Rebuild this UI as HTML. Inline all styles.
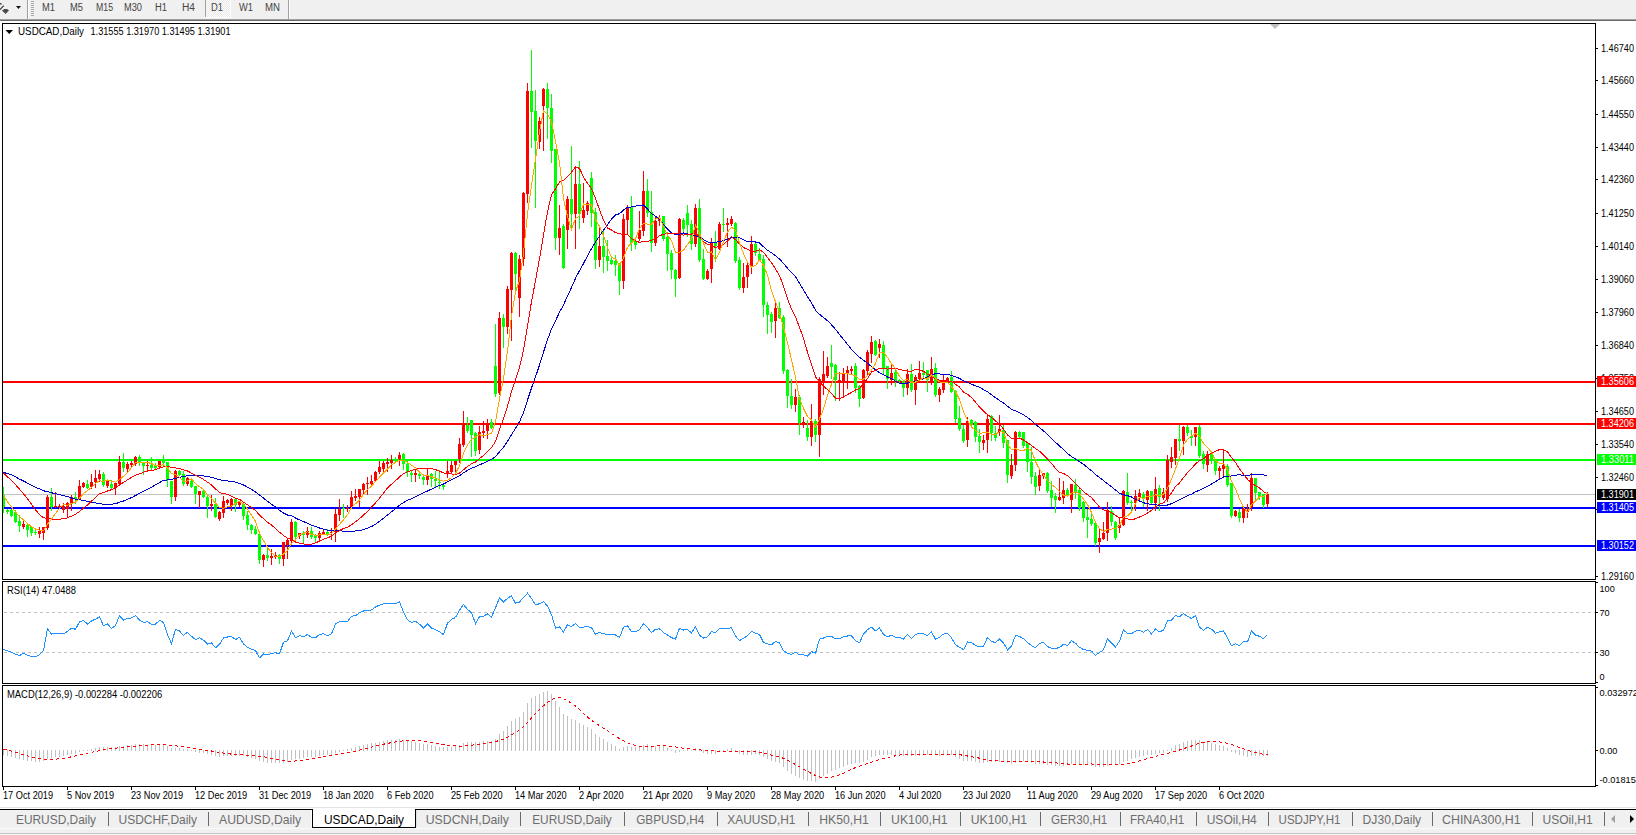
<!DOCTYPE html><html><head><meta charset="utf-8"><style>html,body{margin:0;padding:0;background:#fff;}svg{display:block} text{font-family:"Liberation Sans", sans-serif;}</style></head><body>
<svg width="1636" height="835" viewBox="0 0 1636 835">
<rect x="0" y="0" width="1636" height="19" fill="#f0f0f0"/>
<rect x="0" y="19" width="1636" height="1" fill="#a0a0a0"/>
<rect x="0" y="20" width="1636" height="1" fill="#696969"/>
<rect x="0" y="21" width="1636" height="2" fill="#ffffff"/>
<path d="M0 3 L1.2 3 L2 4.6 L0 4.6 Z" fill="#444"/>
<path d="M3.7 5.6 L0 9.6" stroke="#3a3a3a" stroke-width="1.3" fill="none"/>
<path d="M2 10.4 L4.4 9 L7 9 L9 10.4 L5.5 14 Z" fill="#4a4a4a"/>
<path d="M16 6 L21 6 L18.5 9 Z" fill="#111"/>
<rect x="27" y="0" width="1" height="19" fill="#a0a0a0"/>
<rect x="28" y="0" width="1" height="19" fill="#ffffff"/>
<rect x="31" y="1" width="3" height="1" fill="#a8a8a8"/>
<rect x="31" y="3" width="3" height="1" fill="#a8a8a8"/>
<rect x="31" y="5" width="3" height="1" fill="#a8a8a8"/>
<rect x="31" y="7" width="3" height="1" fill="#a8a8a8"/>
<rect x="31" y="9" width="3" height="1" fill="#a8a8a8"/>
<rect x="31" y="11" width="3" height="1" fill="#a8a8a8"/>
<rect x="31" y="13" width="3" height="1" fill="#a8a8a8"/>
<rect x="31" y="15" width="3" height="1" fill="#a8a8a8"/>
<defs><pattern id="chk" width="2" height="2" patternUnits="userSpaceOnUse"><rect width="2" height="2" fill="#e6e6e6"/><rect width="1" height="1" fill="#ffffff"/><rect x="1" y="1" width="1" height="1" fill="#ffffff"/></pattern></defs>
<rect x="205" y="0" width="25" height="17" fill="url(#chk)"/>
<rect x="205" y="0" width="1" height="17" fill="#a0a0a0"/>
<rect x="205" y="17" width="26" height="1" fill="#ffffff"/>
<rect x="230" y="0" width="1" height="18" fill="#ffffff"/>
<rect x="288" y="0" width="1" height="19" fill="#a0a0a0"/>
<rect x="289" y="0" width="1" height="19" fill="#ffffff"/>
<text x="42" y="11" font-size="10" fill="#454545" textLength="13" lengthAdjust="spacingAndGlyphs">M1</text>
<text x="70" y="11" font-size="10" fill="#454545" textLength="13" lengthAdjust="spacingAndGlyphs">M5</text>
<text x="96" y="11" font-size="10" fill="#454545" textLength="17" lengthAdjust="spacingAndGlyphs">M15</text>
<text x="124" y="11" font-size="10" fill="#454545" textLength="18" lengthAdjust="spacingAndGlyphs">M30</text>
<text x="155" y="11" font-size="10" fill="#454545" textLength="12" lengthAdjust="spacingAndGlyphs">H1</text>
<text x="182" y="11" font-size="10" fill="#454545" textLength="13" lengthAdjust="spacingAndGlyphs">H4</text>
<text x="211" y="11" font-size="10" fill="#454545" textLength="12" lengthAdjust="spacingAndGlyphs">D1</text>
<text x="239" y="11" font-size="10" fill="#454545" textLength="14" lengthAdjust="spacingAndGlyphs">W1</text>
<text x="265" y="11" font-size="10" fill="#454545" textLength="15" lengthAdjust="spacingAndGlyphs">MN</text>
<rect x="2" y="23" width="1594" height="557" fill="#000"/>
<rect x="3" y="24" width="1592" height="555" fill="#fff"/>
<rect x="2" y="581" width="1594" height="103" fill="#000"/>
<rect x="3" y="582" width="1592" height="101" fill="#fff"/>
<rect x="2" y="685" width="1594" height="102" fill="#000"/>
<rect x="3" y="686" width="1592" height="100" fill="#fff"/>
<g shape-rendering="crispEdges">
<rect x="3" y="381" width="1592" height="2" fill="#ff0000"/>
<rect x="3" y="423" width="1592" height="2" fill="#ff0000"/>
<rect x="3" y="459" width="1592" height="2" fill="#00ff00"/>
<rect x="3" y="494" width="1592" height="1" fill="#c0c0c0"/>
<rect x="3" y="507" width="1592" height="2" fill="#0000ff"/>
<rect x="3" y="545" width="1592" height="2" fill="#0000ff"/>
<rect x="3" y="487" width="1" height="26" fill="#00ff00"/>
<rect x="3" y="495" width="2" height="12" fill="#00ff00"/>
<rect x="7" y="509" width="1" height="5" fill="#00ff00"/>
<rect x="6" y="510" width="3" height="2" fill="#00ff00"/>
<rect x="11" y="509" width="1" height="8" fill="#00ff00"/>
<rect x="10" y="510" width="3" height="6" fill="#00ff00"/>
<rect x="15" y="510" width="1" height="13" fill="#00ff00"/>
<rect x="14" y="512" width="3" height="10" fill="#00ff00"/>
<rect x="19" y="515" width="1" height="17" fill="#00ff00"/>
<rect x="18" y="521" width="3" height="5" fill="#00ff00"/>
<rect x="23" y="519" width="1" height="10" fill="#ff0000"/>
<rect x="22" y="524" width="3" height="3" fill="#ff0000"/>
<rect x="27" y="523" width="1" height="14" fill="#00ff00"/>
<rect x="26" y="525" width="3" height="5" fill="#00ff00"/>
<rect x="31" y="527" width="1" height="9" fill="#00ff00"/>
<rect x="30" y="527" width="3" height="6" fill="#00ff00"/>
<rect x="35" y="528" width="1" height="7" fill="#00ff00"/>
<rect x="34" y="532" width="3" height="1" fill="#00ff00"/>
<rect x="39" y="527" width="1" height="11" fill="#ff0000"/>
<rect x="38" y="531" width="3" height="3" fill="#ff0000"/>
<rect x="43" y="527" width="1" height="13" fill="#ff0000"/>
<rect x="42" y="527" width="3" height="6" fill="#ff0000"/>
<rect x="47" y="495" width="1" height="35" fill="#ff0000"/>
<rect x="46" y="497" width="3" height="31" fill="#ff0000"/>
<rect x="51" y="488" width="1" height="23" fill="#00ff00"/>
<rect x="50" y="497" width="3" height="10" fill="#00ff00"/>
<rect x="55" y="492" width="1" height="16" fill="#ff0000"/>
<rect x="54" y="506" width="3" height="1" fill="#ff0000"/>
<rect x="59" y="504" width="1" height="4" fill="#ff0000"/>
<rect x="58" y="506" width="3" height="1" fill="#ff0000"/>
<rect x="63" y="503" width="1" height="10" fill="#ff0000"/>
<rect x="62" y="506" width="3" height="4" fill="#ff0000"/>
<rect x="67" y="502" width="1" height="15" fill="#ff0000"/>
<rect x="66" y="503" width="3" height="6" fill="#ff0000"/>
<rect x="71" y="495" width="1" height="16" fill="#ff0000"/>
<rect x="70" y="497" width="3" height="7" fill="#ff0000"/>
<rect x="75" y="492" width="1" height="12" fill="#00ff00"/>
<rect x="74" y="497" width="3" height="2" fill="#00ff00"/>
<rect x="79" y="480" width="1" height="20" fill="#ff0000"/>
<rect x="78" y="486" width="3" height="13" fill="#ff0000"/>
<rect x="83" y="482" width="1" height="6" fill="#ff0000"/>
<rect x="82" y="483" width="3" height="4" fill="#ff0000"/>
<rect x="87" y="480" width="1" height="9" fill="#00ff00"/>
<rect x="86" y="484" width="3" height="4" fill="#00ff00"/>
<rect x="91" y="474" width="1" height="15" fill="#ff0000"/>
<rect x="90" y="482" width="3" height="5" fill="#ff0000"/>
<rect x="95" y="470" width="1" height="18" fill="#ff0000"/>
<rect x="94" y="478" width="3" height="4" fill="#ff0000"/>
<rect x="99" y="470" width="1" height="12" fill="#ff0000"/>
<rect x="98" y="474" width="3" height="5" fill="#ff0000"/>
<rect x="103" y="472" width="1" height="15" fill="#00ff00"/>
<rect x="102" y="474" width="3" height="11" fill="#00ff00"/>
<rect x="107" y="481" width="1" height="7" fill="#ff0000"/>
<rect x="106" y="481" width="3" height="5" fill="#ff0000"/>
<rect x="111" y="480" width="1" height="10" fill="#00ff00"/>
<rect x="110" y="484" width="3" height="4" fill="#00ff00"/>
<rect x="115" y="482" width="1" height="13" fill="#ff0000"/>
<rect x="114" y="483" width="3" height="5" fill="#ff0000"/>
<rect x="119" y="456" width="1" height="30" fill="#ff0000"/>
<rect x="118" y="462" width="3" height="22" fill="#ff0000"/>
<rect x="123" y="453" width="1" height="19" fill="#00ff00"/>
<rect x="122" y="462" width="3" height="6" fill="#00ff00"/>
<rect x="127" y="462" width="1" height="11" fill="#ff0000"/>
<rect x="126" y="464" width="3" height="5" fill="#ff0000"/>
<rect x="131" y="461" width="1" height="6" fill="#ff0000"/>
<rect x="130" y="463" width="3" height="2" fill="#ff0000"/>
<rect x="135" y="456" width="1" height="10" fill="#ff0000"/>
<rect x="134" y="457" width="3" height="7" fill="#ff0000"/>
<rect x="139" y="455" width="1" height="11" fill="#00ff00"/>
<rect x="138" y="457" width="3" height="6" fill="#00ff00"/>
<rect x="143" y="463" width="1" height="12" fill="#00ff00"/>
<rect x="142" y="463" width="3" height="3" fill="#00ff00"/>
<rect x="147" y="461" width="1" height="9" fill="#ff0000"/>
<rect x="146" y="465" width="3" height="1" fill="#ff0000"/>
<rect x="151" y="457" width="1" height="13" fill="#00ff00"/>
<rect x="150" y="465" width="3" height="3" fill="#00ff00"/>
<rect x="155" y="463" width="1" height="6" fill="#00ff00"/>
<rect x="154" y="466" width="3" height="2" fill="#00ff00"/>
<rect x="159" y="461" width="1" height="8" fill="#ff0000"/>
<rect x="158" y="461" width="3" height="6" fill="#ff0000"/>
<rect x="163" y="455" width="1" height="11" fill="#00ff00"/>
<rect x="162" y="461" width="3" height="2" fill="#00ff00"/>
<rect x="167" y="462" width="1" height="25" fill="#00ff00"/>
<rect x="166" y="462" width="3" height="18" fill="#00ff00"/>
<rect x="171" y="481" width="1" height="23" fill="#00ff00"/>
<rect x="170" y="481" width="3" height="16" fill="#00ff00"/>
<rect x="175" y="470" width="1" height="31" fill="#ff0000"/>
<rect x="174" y="471" width="3" height="26" fill="#ff0000"/>
<rect x="179" y="470" width="1" height="6" fill="#00ff00"/>
<rect x="178" y="471" width="3" height="4" fill="#00ff00"/>
<rect x="183" y="471" width="1" height="15" fill="#00ff00"/>
<rect x="182" y="474" width="3" height="10" fill="#00ff00"/>
<rect x="187" y="477" width="1" height="9" fill="#ff0000"/>
<rect x="186" y="478" width="3" height="6" fill="#ff0000"/>
<rect x="191" y="479" width="1" height="9" fill="#00ff00"/>
<rect x="190" y="481" width="3" height="6" fill="#00ff00"/>
<rect x="195" y="486" width="1" height="18" fill="#00ff00"/>
<rect x="194" y="486" width="3" height="8" fill="#00ff00"/>
<rect x="199" y="491" width="1" height="17" fill="#ff0000"/>
<rect x="198" y="491" width="3" height="4" fill="#ff0000"/>
<rect x="203" y="490" width="1" height="8" fill="#00ff00"/>
<rect x="202" y="491" width="3" height="6" fill="#00ff00"/>
<rect x="207" y="495" width="1" height="23" fill="#00ff00"/>
<rect x="206" y="497" width="3" height="9" fill="#00ff00"/>
<rect x="211" y="495" width="1" height="16" fill="#ff0000"/>
<rect x="210" y="504" width="3" height="2" fill="#ff0000"/>
<rect x="215" y="498" width="1" height="20" fill="#00ff00"/>
<rect x="214" y="504" width="3" height="13" fill="#00ff00"/>
<rect x="219" y="511" width="1" height="10" fill="#ff0000"/>
<rect x="218" y="512" width="3" height="7" fill="#ff0000"/>
<rect x="223" y="496" width="1" height="22" fill="#ff0000"/>
<rect x="222" y="501" width="3" height="12" fill="#ff0000"/>
<rect x="227" y="499" width="1" height="6" fill="#ff0000"/>
<rect x="226" y="500" width="3" height="3" fill="#ff0000"/>
<rect x="231" y="498" width="1" height="13" fill="#ff0000"/>
<rect x="230" y="499" width="3" height="7" fill="#ff0000"/>
<rect x="235" y="498" width="1" height="14" fill="#00ff00"/>
<rect x="234" y="499" width="3" height="6" fill="#00ff00"/>
<rect x="239" y="501" width="1" height="6" fill="#ff0000"/>
<rect x="238" y="501" width="3" height="4" fill="#ff0000"/>
<rect x="243" y="503" width="1" height="17" fill="#00ff00"/>
<rect x="242" y="504" width="3" height="12" fill="#00ff00"/>
<rect x="247" y="511" width="1" height="19" fill="#00ff00"/>
<rect x="246" y="515" width="3" height="10" fill="#00ff00"/>
<rect x="251" y="524" width="1" height="10" fill="#00ff00"/>
<rect x="250" y="525" width="3" height="5" fill="#00ff00"/>
<rect x="255" y="526" width="1" height="9" fill="#00ff00"/>
<rect x="254" y="529" width="3" height="5" fill="#00ff00"/>
<rect x="259" y="534" width="1" height="30" fill="#00ff00"/>
<rect x="258" y="534" width="3" height="26" fill="#00ff00"/>
<rect x="263" y="554" width="1" height="13" fill="#ff0000"/>
<rect x="262" y="555" width="3" height="5" fill="#ff0000"/>
<rect x="267" y="547" width="1" height="14" fill="#00ff00"/>
<rect x="266" y="555" width="3" height="3" fill="#00ff00"/>
<rect x="271" y="549" width="1" height="16" fill="#ff0000"/>
<rect x="270" y="556" width="3" height="2" fill="#ff0000"/>
<rect x="275" y="552" width="1" height="7" fill="#ff0000"/>
<rect x="274" y="555" width="3" height="2" fill="#ff0000"/>
<rect x="279" y="554" width="1" height="10" fill="#00ff00"/>
<rect x="278" y="555" width="3" height="4" fill="#00ff00"/>
<rect x="283" y="542" width="1" height="24" fill="#ff0000"/>
<rect x="282" y="542" width="3" height="17" fill="#ff0000"/>
<rect x="287" y="538" width="1" height="21" fill="#ff0000"/>
<rect x="286" y="540" width="3" height="5" fill="#ff0000"/>
<rect x="291" y="519" width="1" height="25" fill="#ff0000"/>
<rect x="290" y="522" width="3" height="19" fill="#ff0000"/>
<rect x="295" y="521" width="1" height="21" fill="#00ff00"/>
<rect x="294" y="522" width="3" height="15" fill="#00ff00"/>
<rect x="299" y="533" width="1" height="6" fill="#ff0000"/>
<rect x="298" y="533" width="3" height="3" fill="#ff0000"/>
<rect x="303" y="531" width="1" height="12" fill="#00ff00"/>
<rect x="302" y="533" width="3" height="2" fill="#00ff00"/>
<rect x="307" y="527" width="1" height="11" fill="#ff0000"/>
<rect x="306" y="531" width="3" height="4" fill="#ff0000"/>
<rect x="311" y="527" width="1" height="12" fill="#00ff00"/>
<rect x="310" y="531" width="3" height="6" fill="#00ff00"/>
<rect x="315" y="534" width="1" height="9" fill="#00ff00"/>
<rect x="314" y="536" width="3" height="2" fill="#00ff00"/>
<rect x="319" y="531" width="1" height="10" fill="#ff0000"/>
<rect x="318" y="533" width="3" height="5" fill="#ff0000"/>
<rect x="323" y="529" width="1" height="6" fill="#ff0000"/>
<rect x="322" y="532" width="3" height="2" fill="#ff0000"/>
<rect x="327" y="529" width="1" height="7" fill="#00ff00"/>
<rect x="326" y="532" width="3" height="3" fill="#00ff00"/>
<rect x="331" y="528" width="1" height="12" fill="#ff0000"/>
<rect x="330" y="532" width="3" height="1" fill="#ff0000"/>
<rect x="335" y="509" width="1" height="33" fill="#ff0000"/>
<rect x="334" y="514" width="3" height="18" fill="#ff0000"/>
<rect x="339" y="499" width="1" height="22" fill="#ff0000"/>
<rect x="338" y="509" width="3" height="6" fill="#ff0000"/>
<rect x="343" y="504" width="1" height="14" fill="#00ff00"/>
<rect x="342" y="508" width="3" height="1" fill="#00ff00"/>
<rect x="347" y="505" width="1" height="7" fill="#ff0000"/>
<rect x="346" y="508" width="3" height="1" fill="#ff0000"/>
<rect x="351" y="491" width="1" height="18" fill="#ff0000"/>
<rect x="350" y="497" width="3" height="10" fill="#ff0000"/>
<rect x="355" y="489" width="1" height="12" fill="#ff0000"/>
<rect x="354" y="496" width="3" height="2" fill="#ff0000"/>
<rect x="359" y="489" width="1" height="18" fill="#ff0000"/>
<rect x="358" y="489" width="3" height="8" fill="#ff0000"/>
<rect x="363" y="483" width="1" height="12" fill="#ff0000"/>
<rect x="362" y="484" width="3" height="6" fill="#ff0000"/>
<rect x="367" y="477" width="1" height="18" fill="#ff0000"/>
<rect x="366" y="483" width="3" height="1" fill="#ff0000"/>
<rect x="371" y="475" width="1" height="12" fill="#ff0000"/>
<rect x="370" y="481" width="3" height="3" fill="#ff0000"/>
<rect x="375" y="471" width="1" height="11" fill="#ff0000"/>
<rect x="374" y="472" width="3" height="9" fill="#ff0000"/>
<rect x="379" y="461" width="1" height="13" fill="#ff0000"/>
<rect x="378" y="467" width="3" height="5" fill="#ff0000"/>
<rect x="383" y="461" width="1" height="13" fill="#ff0000"/>
<rect x="382" y="463" width="3" height="6" fill="#ff0000"/>
<rect x="387" y="458" width="1" height="14" fill="#ff0000"/>
<rect x="386" y="462" width="3" height="2" fill="#ff0000"/>
<rect x="391" y="455" width="1" height="14" fill="#ff0000"/>
<rect x="390" y="460" width="3" height="3" fill="#ff0000"/>
<rect x="395" y="457" width="1" height="6" fill="#00ff00"/>
<rect x="394" y="460" width="3" height="1" fill="#00ff00"/>
<rect x="399" y="452" width="1" height="14" fill="#ff0000"/>
<rect x="398" y="455" width="3" height="4" fill="#ff0000"/>
<rect x="403" y="453" width="1" height="17" fill="#00ff00"/>
<rect x="402" y="454" width="3" height="10" fill="#00ff00"/>
<rect x="407" y="461" width="1" height="16" fill="#00ff00"/>
<rect x="406" y="464" width="3" height="8" fill="#00ff00"/>
<rect x="411" y="471" width="1" height="11" fill="#00ff00"/>
<rect x="410" y="473" width="3" height="2" fill="#00ff00"/>
<rect x="415" y="469" width="1" height="13" fill="#ff0000"/>
<rect x="414" y="473" width="3" height="2" fill="#ff0000"/>
<rect x="419" y="472" width="1" height="7" fill="#00ff00"/>
<rect x="418" y="474" width="3" height="2" fill="#00ff00"/>
<rect x="423" y="475" width="1" height="10" fill="#00ff00"/>
<rect x="422" y="477" width="3" height="3" fill="#00ff00"/>
<rect x="427" y="468" width="1" height="17" fill="#ff0000"/>
<rect x="426" y="475" width="3" height="5" fill="#ff0000"/>
<rect x="431" y="473" width="1" height="14" fill="#00ff00"/>
<rect x="430" y="474" width="3" height="5" fill="#00ff00"/>
<rect x="435" y="471" width="1" height="16" fill="#00ff00"/>
<rect x="434" y="479" width="3" height="2" fill="#00ff00"/>
<rect x="439" y="470" width="1" height="19" fill="#00ff00"/>
<rect x="438" y="482" width="3" height="1" fill="#00ff00"/>
<rect x="443" y="484" width="1" height="6" fill="#00ff00"/>
<rect x="442" y="485" width="3" height="2" fill="#00ff00"/>
<rect x="447" y="461" width="1" height="17" fill="#ff0000"/>
<rect x="446" y="471" width="3" height="3" fill="#ff0000"/>
<rect x="451" y="461" width="1" height="13" fill="#ff0000"/>
<rect x="450" y="465" width="3" height="7" fill="#ff0000"/>
<rect x="455" y="461" width="1" height="13" fill="#ff0000"/>
<rect x="454" y="461" width="3" height="4" fill="#ff0000"/>
<rect x="459" y="438" width="1" height="25" fill="#ff0000"/>
<rect x="458" y="444" width="3" height="15" fill="#ff0000"/>
<rect x="463" y="411" width="1" height="36" fill="#ff0000"/>
<rect x="462" y="425" width="3" height="20" fill="#ff0000"/>
<rect x="467" y="417" width="1" height="16" fill="#00ff00"/>
<rect x="466" y="425" width="3" height="6" fill="#00ff00"/>
<rect x="471" y="420" width="1" height="37" fill="#00ff00"/>
<rect x="470" y="420" width="3" height="15" fill="#00ff00"/>
<rect x="475" y="432" width="1" height="24" fill="#00ff00"/>
<rect x="474" y="433" width="3" height="18" fill="#00ff00"/>
<rect x="479" y="426" width="1" height="28" fill="#ff0000"/>
<rect x="478" y="432" width="3" height="18" fill="#ff0000"/>
<rect x="483" y="421" width="1" height="17" fill="#ff0000"/>
<rect x="482" y="431" width="3" height="2" fill="#ff0000"/>
<rect x="487" y="419" width="1" height="20" fill="#ff0000"/>
<rect x="486" y="424" width="3" height="7" fill="#ff0000"/>
<rect x="491" y="419" width="1" height="10" fill="#00ff00"/>
<rect x="490" y="422" width="3" height="6" fill="#00ff00"/>
<rect x="495" y="324" width="1" height="73" fill="#00ff00"/>
<rect x="494" y="366" width="3" height="28" fill="#00ff00"/>
<rect x="499" y="312" width="1" height="83" fill="#ff0000"/>
<rect x="498" y="318" width="3" height="75" fill="#ff0000"/>
<rect x="503" y="314" width="1" height="34" fill="#00ff00"/>
<rect x="502" y="318" width="3" height="9" fill="#00ff00"/>
<rect x="507" y="286" width="1" height="48" fill="#ff0000"/>
<rect x="506" y="289" width="3" height="38" fill="#ff0000"/>
<rect x="511" y="252" width="1" height="89" fill="#ff0000"/>
<rect x="510" y="253" width="3" height="37" fill="#ff0000"/>
<rect x="515" y="252" width="1" height="38" fill="#00ff00"/>
<rect x="514" y="253" width="3" height="21" fill="#00ff00"/>
<rect x="519" y="255" width="1" height="62" fill="#ff0000"/>
<rect x="518" y="259" width="3" height="39" fill="#ff0000"/>
<rect x="523" y="192" width="1" height="74" fill="#ff0000"/>
<rect x="522" y="193" width="3" height="66" fill="#ff0000"/>
<rect x="527" y="83" width="1" height="120" fill="#ff0000"/>
<rect x="526" y="91" width="3" height="103" fill="#ff0000"/>
<rect x="531" y="50" width="1" height="98" fill="#00ff00"/>
<rect x="530" y="91" width="3" height="21" fill="#00ff00"/>
<rect x="535" y="90" width="1" height="118" fill="#00ff00"/>
<rect x="534" y="111" width="3" height="30" fill="#00ff00"/>
<rect x="539" y="117" width="1" height="32" fill="#ff0000"/>
<rect x="538" y="121" width="3" height="21" fill="#ff0000"/>
<rect x="543" y="88" width="1" height="63" fill="#ff0000"/>
<rect x="542" y="89" width="3" height="17" fill="#ff0000"/>
<rect x="547" y="83" width="1" height="56" fill="#00ff00"/>
<rect x="546" y="89" width="3" height="19" fill="#00ff00"/>
<rect x="551" y="94" width="1" height="69" fill="#00ff00"/>
<rect x="550" y="108" width="3" height="43" fill="#00ff00"/>
<rect x="555" y="149" width="1" height="101" fill="#00ff00"/>
<rect x="554" y="149" width="3" height="89" fill="#00ff00"/>
<rect x="559" y="205" width="1" height="50" fill="#ff0000"/>
<rect x="558" y="228" width="3" height="10" fill="#ff0000"/>
<rect x="563" y="224" width="1" height="45" fill="#00ff00"/>
<rect x="562" y="226" width="3" height="42" fill="#00ff00"/>
<rect x="567" y="196" width="1" height="53" fill="#ff0000"/>
<rect x="566" y="199" width="3" height="31" fill="#ff0000"/>
<rect x="571" y="146" width="1" height="85" fill="#00ff00"/>
<rect x="570" y="199" width="3" height="15" fill="#00ff00"/>
<rect x="575" y="167" width="1" height="82" fill="#ff0000"/>
<rect x="574" y="184" width="3" height="30" fill="#ff0000"/>
<rect x="579" y="161" width="1" height="68" fill="#00ff00"/>
<rect x="578" y="184" width="3" height="30" fill="#00ff00"/>
<rect x="583" y="183" width="1" height="40" fill="#ff0000"/>
<rect x="582" y="210" width="3" height="8" fill="#ff0000"/>
<rect x="587" y="201" width="1" height="14" fill="#ff0000"/>
<rect x="586" y="203" width="3" height="8" fill="#ff0000"/>
<rect x="591" y="172" width="1" height="55" fill="#00ff00"/>
<rect x="590" y="178" width="3" height="35" fill="#00ff00"/>
<rect x="595" y="208" width="1" height="61" fill="#00ff00"/>
<rect x="594" y="212" width="3" height="48" fill="#00ff00"/>
<rect x="599" y="228" width="1" height="39" fill="#ff0000"/>
<rect x="598" y="246" width="3" height="14" fill="#ff0000"/>
<rect x="603" y="231" width="1" height="42" fill="#00ff00"/>
<rect x="602" y="246" width="3" height="11" fill="#00ff00"/>
<rect x="607" y="240" width="1" height="31" fill="#00ff00"/>
<rect x="606" y="256" width="3" height="5" fill="#00ff00"/>
<rect x="611" y="258" width="1" height="7" fill="#00ff00"/>
<rect x="610" y="260" width="3" height="4" fill="#00ff00"/>
<rect x="615" y="255" width="1" height="21" fill="#00ff00"/>
<rect x="614" y="261" width="3" height="4" fill="#00ff00"/>
<rect x="619" y="263" width="1" height="32" fill="#00ff00"/>
<rect x="618" y="264" width="3" height="17" fill="#00ff00"/>
<rect x="623" y="214" width="1" height="75" fill="#ff0000"/>
<rect x="622" y="219" width="3" height="62" fill="#ff0000"/>
<rect x="627" y="205" width="1" height="30" fill="#ff0000"/>
<rect x="626" y="208" width="3" height="12" fill="#ff0000"/>
<rect x="631" y="196" width="1" height="55" fill="#00ff00"/>
<rect x="630" y="207" width="3" height="36" fill="#00ff00"/>
<rect x="635" y="238" width="1" height="11" fill="#00ff00"/>
<rect x="634" y="241" width="3" height="4" fill="#00ff00"/>
<rect x="639" y="211" width="1" height="30" fill="#ff0000"/>
<rect x="638" y="230" width="3" height="9" fill="#ff0000"/>
<rect x="643" y="171" width="1" height="65" fill="#ff0000"/>
<rect x="642" y="191" width="3" height="40" fill="#ff0000"/>
<rect x="647" y="179" width="1" height="38" fill="#00ff00"/>
<rect x="646" y="191" width="3" height="22" fill="#00ff00"/>
<rect x="651" y="191" width="1" height="61" fill="#00ff00"/>
<rect x="650" y="212" width="3" height="31" fill="#00ff00"/>
<rect x="655" y="217" width="1" height="29" fill="#ff0000"/>
<rect x="654" y="221" width="3" height="22" fill="#ff0000"/>
<rect x="659" y="215" width="1" height="11" fill="#ff0000"/>
<rect x="658" y="219" width="3" height="2" fill="#ff0000"/>
<rect x="663" y="216" width="1" height="25" fill="#00ff00"/>
<rect x="662" y="216" width="3" height="23" fill="#00ff00"/>
<rect x="667" y="232" width="1" height="39" fill="#00ff00"/>
<rect x="666" y="237" width="3" height="17" fill="#00ff00"/>
<rect x="671" y="250" width="1" height="29" fill="#00ff00"/>
<rect x="670" y="253" width="3" height="17" fill="#00ff00"/>
<rect x="675" y="269" width="1" height="28" fill="#00ff00"/>
<rect x="674" y="270" width="3" height="9" fill="#00ff00"/>
<rect x="679" y="218" width="1" height="61" fill="#ff0000"/>
<rect x="678" y="219" width="3" height="59" fill="#ff0000"/>
<rect x="683" y="218" width="1" height="15" fill="#00ff00"/>
<rect x="682" y="220" width="3" height="9" fill="#00ff00"/>
<rect x="687" y="205" width="1" height="32" fill="#00ff00"/>
<rect x="686" y="213" width="3" height="12" fill="#00ff00"/>
<rect x="691" y="220" width="1" height="30" fill="#00ff00"/>
<rect x="690" y="224" width="3" height="20" fill="#00ff00"/>
<rect x="695" y="204" width="1" height="43" fill="#ff0000"/>
<rect x="694" y="208" width="3" height="36" fill="#ff0000"/>
<rect x="699" y="199" width="1" height="63" fill="#00ff00"/>
<rect x="698" y="208" width="3" height="52" fill="#00ff00"/>
<rect x="703" y="249" width="1" height="31" fill="#00ff00"/>
<rect x="702" y="259" width="3" height="20" fill="#00ff00"/>
<rect x="707" y="269" width="1" height="11" fill="#ff0000"/>
<rect x="706" y="271" width="3" height="8" fill="#ff0000"/>
<rect x="711" y="238" width="1" height="45" fill="#ff0000"/>
<rect x="710" y="242" width="3" height="27" fill="#ff0000"/>
<rect x="715" y="231" width="1" height="31" fill="#00ff00"/>
<rect x="714" y="243" width="3" height="3" fill="#00ff00"/>
<rect x="719" y="222" width="1" height="28" fill="#ff0000"/>
<rect x="718" y="224" width="3" height="25" fill="#ff0000"/>
<rect x="723" y="208" width="1" height="24" fill="#00ff00"/>
<rect x="722" y="224" width="3" height="1" fill="#00ff00"/>
<rect x="727" y="218" width="1" height="29" fill="#ff0000"/>
<rect x="726" y="223" width="3" height="2" fill="#ff0000"/>
<rect x="731" y="216" width="1" height="10" fill="#ff0000"/>
<rect x="730" y="219" width="3" height="5" fill="#ff0000"/>
<rect x="735" y="222" width="1" height="41" fill="#00ff00"/>
<rect x="734" y="223" width="3" height="38" fill="#00ff00"/>
<rect x="739" y="257" width="1" height="33" fill="#00ff00"/>
<rect x="738" y="260" width="3" height="28" fill="#00ff00"/>
<rect x="743" y="263" width="1" height="30" fill="#ff0000"/>
<rect x="742" y="277" width="3" height="11" fill="#ff0000"/>
<rect x="747" y="263" width="1" height="25" fill="#ff0000"/>
<rect x="746" y="265" width="3" height="12" fill="#ff0000"/>
<rect x="751" y="236" width="1" height="38" fill="#ff0000"/>
<rect x="750" y="244" width="3" height="22" fill="#ff0000"/>
<rect x="755" y="243" width="1" height="13" fill="#00ff00"/>
<rect x="754" y="244" width="3" height="9" fill="#00ff00"/>
<rect x="759" y="248" width="1" height="13" fill="#00ff00"/>
<rect x="758" y="254" width="3" height="6" fill="#00ff00"/>
<rect x="763" y="255" width="1" height="62" fill="#00ff00"/>
<rect x="762" y="259" width="3" height="46" fill="#00ff00"/>
<rect x="767" y="302" width="1" height="32" fill="#00ff00"/>
<rect x="766" y="305" width="3" height="10" fill="#00ff00"/>
<rect x="771" y="312" width="1" height="21" fill="#00ff00"/>
<rect x="770" y="314" width="3" height="8" fill="#00ff00"/>
<rect x="775" y="303" width="1" height="35" fill="#ff0000"/>
<rect x="774" y="308" width="3" height="13" fill="#ff0000"/>
<rect x="779" y="302" width="1" height="17" fill="#00ff00"/>
<rect x="778" y="308" width="3" height="10" fill="#00ff00"/>
<rect x="783" y="315" width="1" height="59" fill="#00ff00"/>
<rect x="782" y="317" width="3" height="54" fill="#00ff00"/>
<rect x="787" y="369" width="1" height="39" fill="#00ff00"/>
<rect x="786" y="370" width="3" height="26" fill="#00ff00"/>
<rect x="791" y="379" width="1" height="30" fill="#00ff00"/>
<rect x="790" y="396" width="3" height="9" fill="#00ff00"/>
<rect x="795" y="389" width="1" height="23" fill="#ff0000"/>
<rect x="794" y="397" width="3" height="8" fill="#ff0000"/>
<rect x="799" y="395" width="1" height="40" fill="#00ff00"/>
<rect x="798" y="397" width="3" height="26" fill="#00ff00"/>
<rect x="803" y="417" width="1" height="11" fill="#ff0000"/>
<rect x="802" y="422" width="3" height="2" fill="#ff0000"/>
<rect x="807" y="420" width="1" height="21" fill="#00ff00"/>
<rect x="806" y="428" width="3" height="9" fill="#00ff00"/>
<rect x="811" y="404" width="1" height="42" fill="#ff0000"/>
<rect x="810" y="421" width="3" height="16" fill="#ff0000"/>
<rect x="815" y="419" width="1" height="23" fill="#00ff00"/>
<rect x="814" y="421" width="3" height="14" fill="#00ff00"/>
<rect x="819" y="377" width="1" height="80" fill="#ff0000"/>
<rect x="818" y="379" width="3" height="56" fill="#ff0000"/>
<rect x="823" y="351" width="1" height="44" fill="#ff0000"/>
<rect x="822" y="374" width="3" height="9" fill="#ff0000"/>
<rect x="827" y="357" width="1" height="21" fill="#ff0000"/>
<rect x="826" y="366" width="3" height="10" fill="#ff0000"/>
<rect x="831" y="345" width="1" height="34" fill="#00ff00"/>
<rect x="830" y="363" width="3" height="4" fill="#00ff00"/>
<rect x="835" y="364" width="1" height="37" fill="#00ff00"/>
<rect x="834" y="365" width="3" height="15" fill="#00ff00"/>
<rect x="839" y="372" width="1" height="29" fill="#ff0000"/>
<rect x="838" y="380" width="3" height="2" fill="#ff0000"/>
<rect x="843" y="368" width="1" height="28" fill="#ff0000"/>
<rect x="842" y="373" width="3" height="9" fill="#ff0000"/>
<rect x="847" y="366" width="1" height="23" fill="#ff0000"/>
<rect x="846" y="370" width="3" height="4" fill="#ff0000"/>
<rect x="851" y="366" width="1" height="9" fill="#ff0000"/>
<rect x="850" y="369" width="3" height="2" fill="#ff0000"/>
<rect x="855" y="363" width="1" height="30" fill="#00ff00"/>
<rect x="854" y="366" width="3" height="22" fill="#00ff00"/>
<rect x="859" y="385" width="1" height="22" fill="#00ff00"/>
<rect x="858" y="386" width="3" height="13" fill="#00ff00"/>
<rect x="863" y="369" width="1" height="30" fill="#ff0000"/>
<rect x="862" y="370" width="3" height="28" fill="#ff0000"/>
<rect x="867" y="350" width="1" height="25" fill="#ff0000"/>
<rect x="866" y="352" width="3" height="19" fill="#ff0000"/>
<rect x="871" y="336" width="1" height="27" fill="#ff0000"/>
<rect x="870" y="342" width="3" height="12" fill="#ff0000"/>
<rect x="875" y="340" width="1" height="16" fill="#00ff00"/>
<rect x="874" y="341" width="3" height="14" fill="#00ff00"/>
<rect x="879" y="339" width="1" height="19" fill="#ff0000"/>
<rect x="878" y="344" width="3" height="4" fill="#ff0000"/>
<rect x="883" y="341" width="1" height="33" fill="#00ff00"/>
<rect x="882" y="345" width="3" height="23" fill="#00ff00"/>
<rect x="887" y="366" width="1" height="23" fill="#00ff00"/>
<rect x="886" y="366" width="3" height="13" fill="#00ff00"/>
<rect x="891" y="364" width="1" height="21" fill="#ff0000"/>
<rect x="890" y="373" width="3" height="7" fill="#ff0000"/>
<rect x="895" y="370" width="1" height="17" fill="#00ff00"/>
<rect x="894" y="372" width="3" height="9" fill="#00ff00"/>
<rect x="899" y="379" width="1" height="5" fill="#00ff00"/>
<rect x="898" y="380" width="3" height="1" fill="#00ff00"/>
<rect x="903" y="380" width="1" height="17" fill="#00ff00"/>
<rect x="902" y="381" width="3" height="7" fill="#00ff00"/>
<rect x="907" y="369" width="1" height="26" fill="#ff0000"/>
<rect x="906" y="374" width="3" height="14" fill="#ff0000"/>
<rect x="911" y="364" width="1" height="28" fill="#00ff00"/>
<rect x="910" y="374" width="3" height="16" fill="#00ff00"/>
<rect x="915" y="375" width="1" height="30" fill="#ff0000"/>
<rect x="914" y="377" width="3" height="13" fill="#ff0000"/>
<rect x="919" y="361" width="1" height="20" fill="#ff0000"/>
<rect x="918" y="373" width="3" height="6" fill="#ff0000"/>
<rect x="923" y="362" width="1" height="15" fill="#00ff00"/>
<rect x="922" y="373" width="3" height="2" fill="#00ff00"/>
<rect x="927" y="370" width="1" height="22" fill="#00ff00"/>
<rect x="926" y="370" width="3" height="10" fill="#00ff00"/>
<rect x="931" y="357" width="1" height="28" fill="#ff0000"/>
<rect x="930" y="369" width="3" height="14" fill="#ff0000"/>
<rect x="935" y="363" width="1" height="34" fill="#00ff00"/>
<rect x="934" y="368" width="3" height="27" fill="#00ff00"/>
<rect x="939" y="387" width="1" height="15" fill="#ff0000"/>
<rect x="938" y="389" width="3" height="6" fill="#ff0000"/>
<rect x="943" y="375" width="1" height="18" fill="#ff0000"/>
<rect x="942" y="380" width="3" height="10" fill="#ff0000"/>
<rect x="947" y="377" width="1" height="4" fill="#ff0000"/>
<rect x="946" y="378" width="3" height="2" fill="#ff0000"/>
<rect x="951" y="371" width="1" height="22" fill="#00ff00"/>
<rect x="950" y="377" width="3" height="15" fill="#00ff00"/>
<rect x="955" y="390" width="1" height="33" fill="#00ff00"/>
<rect x="954" y="391" width="3" height="28" fill="#00ff00"/>
<rect x="959" y="406" width="1" height="25" fill="#00ff00"/>
<rect x="958" y="418" width="3" height="11" fill="#00ff00"/>
<rect x="963" y="425" width="1" height="18" fill="#00ff00"/>
<rect x="962" y="429" width="3" height="12" fill="#00ff00"/>
<rect x="967" y="417" width="1" height="30" fill="#ff0000"/>
<rect x="966" y="421" width="3" height="19" fill="#ff0000"/>
<rect x="971" y="419" width="1" height="7" fill="#00ff00"/>
<rect x="970" y="420" width="3" height="5" fill="#00ff00"/>
<rect x="975" y="421" width="1" height="21" fill="#00ff00"/>
<rect x="974" y="422" width="3" height="15" fill="#00ff00"/>
<rect x="979" y="429" width="1" height="24" fill="#00ff00"/>
<rect x="978" y="436" width="3" height="6" fill="#00ff00"/>
<rect x="983" y="435" width="1" height="15" fill="#ff0000"/>
<rect x="982" y="440" width="3" height="3" fill="#ff0000"/>
<rect x="987" y="415" width="1" height="38" fill="#ff0000"/>
<rect x="986" y="419" width="3" height="21" fill="#ff0000"/>
<rect x="991" y="415" width="1" height="26" fill="#00ff00"/>
<rect x="990" y="416" width="3" height="17" fill="#00ff00"/>
<rect x="995" y="426" width="1" height="15" fill="#00ff00"/>
<rect x="994" y="433" width="3" height="5" fill="#00ff00"/>
<rect x="999" y="415" width="1" height="21" fill="#ff0000"/>
<rect x="998" y="429" width="3" height="3" fill="#ff0000"/>
<rect x="1003" y="425" width="1" height="23" fill="#00ff00"/>
<rect x="1002" y="430" width="3" height="13" fill="#00ff00"/>
<rect x="1007" y="440" width="1" height="43" fill="#00ff00"/>
<rect x="1006" y="440" width="3" height="35" fill="#00ff00"/>
<rect x="1011" y="454" width="1" height="25" fill="#ff0000"/>
<rect x="1010" y="465" width="3" height="11" fill="#ff0000"/>
<rect x="1015" y="431" width="1" height="40" fill="#ff0000"/>
<rect x="1014" y="432" width="3" height="33" fill="#ff0000"/>
<rect x="1019" y="431" width="1" height="7" fill="#00ff00"/>
<rect x="1018" y="432" width="3" height="5" fill="#00ff00"/>
<rect x="1023" y="432" width="1" height="16" fill="#00ff00"/>
<rect x="1022" y="432" width="3" height="14" fill="#00ff00"/>
<rect x="1027" y="442" width="1" height="30" fill="#00ff00"/>
<rect x="1026" y="443" width="3" height="19" fill="#00ff00"/>
<rect x="1031" y="447" width="1" height="37" fill="#00ff00"/>
<rect x="1030" y="462" width="3" height="15" fill="#00ff00"/>
<rect x="1035" y="472" width="1" height="23" fill="#00ff00"/>
<rect x="1034" y="476" width="3" height="11" fill="#00ff00"/>
<rect x="1039" y="470" width="1" height="21" fill="#ff0000"/>
<rect x="1038" y="475" width="3" height="11" fill="#ff0000"/>
<rect x="1043" y="473" width="1" height="6" fill="#ff0000"/>
<rect x="1042" y="473" width="3" height="3" fill="#ff0000"/>
<rect x="1047" y="472" width="1" height="21" fill="#00ff00"/>
<rect x="1046" y="473" width="3" height="18" fill="#00ff00"/>
<rect x="1051" y="481" width="1" height="26" fill="#00ff00"/>
<rect x="1050" y="490" width="3" height="8" fill="#00ff00"/>
<rect x="1055" y="493" width="1" height="20" fill="#00ff00"/>
<rect x="1054" y="496" width="3" height="4" fill="#00ff00"/>
<rect x="1059" y="478" width="1" height="23" fill="#ff0000"/>
<rect x="1058" y="497" width="3" height="3" fill="#ff0000"/>
<rect x="1063" y="481" width="1" height="23" fill="#ff0000"/>
<rect x="1062" y="490" width="3" height="8" fill="#ff0000"/>
<rect x="1067" y="488" width="1" height="9" fill="#00ff00"/>
<rect x="1066" y="490" width="3" height="5" fill="#00ff00"/>
<rect x="1071" y="484" width="1" height="29" fill="#ff0000"/>
<rect x="1070" y="484" width="3" height="16" fill="#ff0000"/>
<rect x="1075" y="479" width="1" height="20" fill="#00ff00"/>
<rect x="1074" y="485" width="3" height="7" fill="#00ff00"/>
<rect x="1079" y="489" width="1" height="22" fill="#00ff00"/>
<rect x="1078" y="490" width="3" height="18" fill="#00ff00"/>
<rect x="1083" y="501" width="1" height="21" fill="#00ff00"/>
<rect x="1082" y="502" width="3" height="16" fill="#00ff00"/>
<rect x="1087" y="509" width="1" height="29" fill="#00ff00"/>
<rect x="1086" y="517" width="3" height="3" fill="#00ff00"/>
<rect x="1091" y="514" width="1" height="12" fill="#00ff00"/>
<rect x="1090" y="519" width="3" height="5" fill="#00ff00"/>
<rect x="1095" y="522" width="1" height="24" fill="#00ff00"/>
<rect x="1094" y="523" width="3" height="20" fill="#00ff00"/>
<rect x="1099" y="528" width="1" height="25" fill="#ff0000"/>
<rect x="1098" y="538" width="3" height="4" fill="#ff0000"/>
<rect x="1103" y="522" width="1" height="18" fill="#ff0000"/>
<rect x="1102" y="533" width="3" height="6" fill="#ff0000"/>
<rect x="1107" y="502" width="1" height="39" fill="#ff0000"/>
<rect x="1106" y="510" width="3" height="23" fill="#ff0000"/>
<rect x="1111" y="506" width="1" height="20" fill="#00ff00"/>
<rect x="1110" y="511" width="3" height="11" fill="#00ff00"/>
<rect x="1115" y="521" width="1" height="19" fill="#00ff00"/>
<rect x="1114" y="522" width="3" height="16" fill="#00ff00"/>
<rect x="1119" y="518" width="1" height="15" fill="#ff0000"/>
<rect x="1118" y="525" width="3" height="3" fill="#ff0000"/>
<rect x="1123" y="490" width="1" height="36" fill="#ff0000"/>
<rect x="1122" y="491" width="3" height="34" fill="#ff0000"/>
<rect x="1127" y="473" width="1" height="32" fill="#00ff00"/>
<rect x="1126" y="492" width="3" height="11" fill="#00ff00"/>
<rect x="1131" y="500" width="1" height="11" fill="#00ff00"/>
<rect x="1130" y="502" width="3" height="1" fill="#00ff00"/>
<rect x="1135" y="490" width="1" height="21" fill="#ff0000"/>
<rect x="1134" y="496" width="3" height="7" fill="#ff0000"/>
<rect x="1139" y="489" width="1" height="11" fill="#ff0000"/>
<rect x="1138" y="493" width="3" height="4" fill="#ff0000"/>
<rect x="1143" y="492" width="1" height="15" fill="#00ff00"/>
<rect x="1142" y="494" width="3" height="5" fill="#00ff00"/>
<rect x="1147" y="490" width="1" height="21" fill="#ff0000"/>
<rect x="1146" y="491" width="3" height="9" fill="#ff0000"/>
<rect x="1151" y="491" width="1" height="13" fill="#00ff00"/>
<rect x="1150" y="491" width="3" height="12" fill="#00ff00"/>
<rect x="1155" y="477" width="1" height="34" fill="#ff0000"/>
<rect x="1154" y="489" width="3" height="14" fill="#ff0000"/>
<rect x="1159" y="485" width="1" height="26" fill="#00ff00"/>
<rect x="1158" y="488" width="3" height="9" fill="#00ff00"/>
<rect x="1163" y="488" width="1" height="12" fill="#ff0000"/>
<rect x="1162" y="492" width="3" height="6" fill="#ff0000"/>
<rect x="1167" y="455" width="1" height="47" fill="#ff0000"/>
<rect x="1166" y="460" width="3" height="39" fill="#ff0000"/>
<rect x="1171" y="447" width="1" height="21" fill="#ff0000"/>
<rect x="1170" y="457" width="3" height="5" fill="#ff0000"/>
<rect x="1175" y="439" width="1" height="26" fill="#ff0000"/>
<rect x="1174" y="439" width="3" height="19" fill="#ff0000"/>
<rect x="1179" y="425" width="1" height="26" fill="#00ff00"/>
<rect x="1178" y="439" width="3" height="2" fill="#00ff00"/>
<rect x="1183" y="426" width="1" height="29" fill="#ff0000"/>
<rect x="1182" y="427" width="3" height="14" fill="#ff0000"/>
<rect x="1187" y="425" width="1" height="11" fill="#00ff00"/>
<rect x="1186" y="427" width="3" height="6" fill="#00ff00"/>
<rect x="1191" y="430" width="1" height="16" fill="#00ff00"/>
<rect x="1190" y="436" width="3" height="2" fill="#00ff00"/>
<rect x="1195" y="427" width="1" height="19" fill="#ff0000"/>
<rect x="1194" y="427" width="3" height="10" fill="#ff0000"/>
<rect x="1199" y="425" width="1" height="33" fill="#00ff00"/>
<rect x="1198" y="427" width="3" height="29" fill="#00ff00"/>
<rect x="1203" y="451" width="1" height="18" fill="#00ff00"/>
<rect x="1202" y="454" width="3" height="10" fill="#00ff00"/>
<rect x="1207" y="451" width="1" height="21" fill="#ff0000"/>
<rect x="1206" y="454" width="3" height="11" fill="#ff0000"/>
<rect x="1211" y="453" width="1" height="11" fill="#00ff00"/>
<rect x="1210" y="454" width="3" height="5" fill="#00ff00"/>
<rect x="1215" y="460" width="1" height="15" fill="#00ff00"/>
<rect x="1214" y="461" width="3" height="10" fill="#00ff00"/>
<rect x="1219" y="466" width="1" height="13" fill="#ff0000"/>
<rect x="1218" y="468" width="3" height="3" fill="#ff0000"/>
<rect x="1223" y="449" width="1" height="28" fill="#ff0000"/>
<rect x="1222" y="465" width="3" height="4" fill="#ff0000"/>
<rect x="1227" y="464" width="1" height="23" fill="#00ff00"/>
<rect x="1226" y="466" width="3" height="19" fill="#00ff00"/>
<rect x="1231" y="483" width="1" height="35" fill="#00ff00"/>
<rect x="1230" y="483" width="3" height="33" fill="#00ff00"/>
<rect x="1235" y="510" width="1" height="7" fill="#ff0000"/>
<rect x="1234" y="511" width="3" height="5" fill="#ff0000"/>
<rect x="1239" y="509" width="1" height="13" fill="#00ff00"/>
<rect x="1238" y="512" width="3" height="6" fill="#00ff00"/>
<rect x="1243" y="507" width="1" height="16" fill="#ff0000"/>
<rect x="1242" y="508" width="3" height="10" fill="#ff0000"/>
<rect x="1247" y="504" width="1" height="14" fill="#ff0000"/>
<rect x="1246" y="510" width="3" height="2" fill="#ff0000"/>
<rect x="1251" y="473" width="1" height="38" fill="#ff0000"/>
<rect x="1250" y="478" width="3" height="29" fill="#ff0000"/>
<rect x="1255" y="478" width="1" height="22" fill="#00ff00"/>
<rect x="1254" y="478" width="3" height="15" fill="#00ff00"/>
<rect x="1259" y="492" width="1" height="8" fill="#00ff00"/>
<rect x="1258" y="492" width="3" height="5" fill="#00ff00"/>
<rect x="1263" y="494" width="1" height="14" fill="#00ff00"/>
<rect x="1262" y="494" width="3" height="11" fill="#00ff00"/>
<rect x="1267" y="492" width="1" height="15" fill="#ff0000"/>
<rect x="1266" y="494" width="3" height="10" fill="#ff0000"/>
</g>
<polyline points="3.5,472.5 7.5,473.5 11.5,474.9 15.5,476.9 19.5,479.1 23.5,481.0 27.5,483.1 31.5,485.4 35.5,487.4 39.5,488.9 43.5,490.8 47.5,491.7 51.5,492.8 55.5,493.6 59.5,494.6 63.5,495.6 67.5,496.6 71.5,498.0 75.5,499.1 79.5,499.8 83.5,500.5 87.5,501.4 91.5,502.2 95.5,502.9 99.5,503.6 103.5,504.2 107.5,504.3 111.5,504.2 115.5,503.7 119.5,502.3 123.5,501.0 127.5,499.4 131.5,497.6 135.5,495.5 139.5,493.4 143.5,491.4 147.5,489.3 151.5,487.1 155.5,484.9 159.5,482.5 163.5,480.4 167.5,479.9 171.5,479.5 175.5,478.4 179.5,477.3 183.5,476.6 187.5,475.8 191.5,475.4 195.5,475.3 199.5,475.4 203.5,475.9 207.5,476.5 211.5,477.3 215.5,478.6 219.5,479.8 223.5,480.4 227.5,481.0 231.5,481.4 235.5,482.1 239.5,483.4 243.5,485.0 247.5,487.1 251.5,489.3 255.5,491.9 259.5,495.1 263.5,498.1 267.5,501.2 271.5,504.2 275.5,507.1 279.5,510.4 283.5,513.0 287.5,515.0 291.5,515.8 295.5,518.0 299.5,519.9 303.5,521.6 307.5,523.4 311.5,525.1 315.5,526.6 319.5,528.0 323.5,529.1 327.5,530.1 331.5,531.0 335.5,530.9 339.5,530.8 343.5,531.1 347.5,531.4 351.5,531.3 355.5,531.0 359.5,530.6 363.5,529.5 367.5,528.1 371.5,526.5 375.5,524.4 379.5,521.3 383.5,518.2 387.5,515.0 391.5,511.8 395.5,508.7 399.5,505.2 403.5,502.6 407.5,500.3 411.5,498.8 415.5,496.6 419.5,494.7 423.5,492.9 427.5,491.0 431.5,489.1 435.5,487.1 439.5,485.5 443.5,484.0 447.5,481.9 451.5,479.7 455.5,477.9 459.5,475.7 463.5,472.9 467.5,470.3 471.5,468.3 475.5,466.8 479.5,464.9 483.5,463.1 487.5,461.1 491.5,459.4 495.5,456.8 499.5,451.8 503.5,447.3 507.5,441.5 511.5,434.6 515.5,428.4 519.5,421.8 523.5,412.8 527.5,400.1 531.5,388.0 535.5,376.9 539.5,365.1 543.5,352.1 547.5,339.8 551.5,328.9 555.5,320.8 559.5,312.3 563.5,305.0 567.5,295.9 571.5,287.5 575.5,278.3 579.5,270.6 583.5,263.5 587.5,255.9 591.5,248.5 595.5,242.1 599.5,235.9 603.5,230.1 607.5,224.7 611.5,219.2 615.5,214.9 619.5,213.7 623.5,210.1 627.5,207.4 631.5,207.0 635.5,206.1 639.5,205.1 643.5,205.0 647.5,209.1 651.5,213.5 655.5,216.1 659.5,219.4 663.5,224.4 667.5,229.2 671.5,233.2 675.5,234.6 679.5,234.3 683.5,233.0 687.5,233.8 691.5,234.9 695.5,235.7 699.5,237.2 703.5,239.5 707.5,241.8 711.5,242.8 715.5,242.3 719.5,241.6 723.5,240.5 727.5,239.2 731.5,237.7 735.5,237.6 739.5,237.8 743.5,239.8 747.5,241.7 751.5,241.7 755.5,242.0 759.5,243.0 763.5,246.8 767.5,250.2 771.5,252.8 775.5,255.7 779.5,259.0 783.5,263.4 787.5,268.2 791.5,272.7 795.5,276.6 799.5,283.4 803.5,289.9 807.5,296.9 811.5,302.8 815.5,310.3 819.5,314.3 823.5,317.5 827.5,320.7 831.5,324.8 835.5,329.3 839.5,334.5 843.5,339.4 847.5,344.3 851.5,349.3 855.5,353.6 859.5,357.3 863.5,360.3 867.5,363.2 871.5,366.5 875.5,369.9 879.5,372.7 883.5,374.8 887.5,377.0 891.5,378.7 895.5,381.1 899.5,383.2 903.5,383.8 907.5,383.0 911.5,382.5 915.5,381.8 919.5,380.2 923.5,378.6 927.5,376.7 931.5,375.0 935.5,373.7 939.5,374.0 943.5,374.2 947.5,374.6 951.5,375.4 955.5,376.7 959.5,378.4 963.5,380.7 967.5,382.4 971.5,384.2 975.5,385.8 979.5,387.3 983.5,389.6 987.5,391.8 991.5,394.9 995.5,397.6 999.5,400.5 1003.5,403.0 1007.5,406.2 1011.5,409.2 1015.5,410.9 1019.5,412.8 1023.5,414.7 1027.5,417.6 1031.5,420.5 1035.5,424.2 1039.5,427.6 1043.5,430.9 1047.5,434.5 1051.5,438.8 1055.5,442.3 1059.5,445.9 1063.5,449.6 1067.5,453.5 1071.5,456.6 1075.5,459.0 1079.5,461.6 1083.5,464.2 1087.5,467.5 1091.5,470.8 1095.5,474.4 1099.5,477.6 1103.5,480.6 1107.5,483.7 1111.5,486.7 1115.5,490.0 1119.5,493.2 1123.5,494.8 1127.5,495.7 1131.5,497.0 1135.5,499.2 1139.5,501.0 1143.5,502.8 1147.5,503.7 1151.5,504.6 1155.5,504.7 1159.5,505.4 1163.5,506.0 1167.5,505.0 1171.5,503.7 1175.5,501.6 1179.5,499.8 1183.5,497.7 1187.5,495.6 1191.5,494.1 1195.5,491.9 1199.5,490.2 1203.5,488.4 1207.5,486.2 1211.5,484.0 1215.5,481.6 1219.5,479.3 1223.5,477.0 1227.5,476.2 1231.5,476.0 1235.5,475.1 1239.5,474.8 1243.5,475.4 1247.5,475.6 1251.5,474.7 1255.5,474.7 1259.5,474.8 1263.5,475.0 1267.5,475.1" fill="none" stroke="#0000cd" stroke-width="1" shape-rendering="crispEdges"/>
<polyline points="3.5,473.0 7.5,476.9 11.5,480.4 15.5,484.6 19.5,489.2 23.5,493.7 27.5,498.8 31.5,504.3 35.5,509.9 39.5,514.5 43.5,517.9 47.5,518.3 51.5,519.1 55.5,519.3 59.5,519.2 63.5,518.8 67.5,517.8 71.5,516.1 75.5,514.2 79.5,511.5 83.5,508.1 87.5,504.9 91.5,501.2 95.5,497.4 99.5,493.6 103.5,492.8 107.5,491.0 111.5,489.7 115.5,488.0 119.5,484.8 123.5,482.3 127.5,479.9 131.5,477.3 135.5,475.3 139.5,473.8 143.5,472.3 147.5,471.0 151.5,470.3 155.5,469.8 159.5,468.1 163.5,466.8 167.5,466.3 171.5,467.3 175.5,468.0 179.5,468.5 183.5,469.9 187.5,471.0 191.5,473.1 195.5,475.4 199.5,477.2 203.5,479.5 207.5,482.2 211.5,484.9 215.5,488.9 219.5,492.4 223.5,493.9 227.5,494.1 231.5,496.1 235.5,498.2 239.5,499.4 243.5,502.2 247.5,504.9 251.5,507.4 255.5,510.5 259.5,515.1 263.5,518.6 267.5,522.4 271.5,525.1 275.5,528.2 279.5,532.3 283.5,535.4 287.5,538.3 291.5,539.5 295.5,542.0 299.5,543.3 303.5,544.0 307.5,544.1 311.5,544.3 315.5,542.8 319.5,541.2 323.5,539.3 327.5,537.8 331.5,536.2 335.5,533.0 339.5,530.6 343.5,528.4 347.5,527.5 351.5,524.6 355.5,521.9 359.5,518.6 363.5,515.2 367.5,511.3 371.5,507.2 375.5,502.9 379.5,498.2 383.5,493.1 387.5,488.0 391.5,484.2 395.5,480.8 399.5,476.9 403.5,473.7 407.5,471.9 411.5,470.4 415.5,469.3 419.5,468.7 423.5,468.6 427.5,468.1 431.5,468.6 435.5,469.6 439.5,471.1 443.5,472.9 447.5,473.7 451.5,474.0 455.5,474.5 459.5,473.0 463.5,469.7 467.5,466.5 471.5,463.8 475.5,462.0 479.5,458.6 483.5,455.4 487.5,451.5 491.5,447.7 495.5,441.3 499.5,429.2 503.5,418.9 507.5,406.3 511.5,391.4 515.5,379.3 519.5,367.4 523.5,350.4 527.5,325.8 531.5,301.6 535.5,280.8 539.5,258.7 543.5,234.8 547.5,211.9 551.5,194.6 555.5,188.9 559.5,181.8 563.5,180.4 567.5,176.5 571.5,172.2 575.5,166.9 579.5,168.4 583.5,176.9 587.5,183.4 591.5,188.5 595.5,198.4 599.5,209.6 603.5,220.3 607.5,228.1 611.5,230.0 615.5,232.6 619.5,233.5 623.5,234.9 627.5,234.5 631.5,238.7 635.5,240.9 639.5,242.4 643.5,241.5 647.5,241.5 651.5,240.3 655.5,238.5 659.5,235.8 663.5,234.2 667.5,233.5 671.5,233.9 675.5,233.7 679.5,233.7 683.5,235.2 687.5,234.0 691.5,234.0 695.5,232.4 699.5,237.3 703.5,242.0 707.5,244.1 711.5,245.6 715.5,247.5 719.5,246.4 723.5,244.4 727.5,241.0 731.5,236.7 735.5,239.7 739.5,243.9 743.5,247.6 747.5,249.1 751.5,251.7 755.5,251.2 759.5,249.8 763.5,252.3 767.5,257.4 771.5,262.8 775.5,268.9 779.5,275.5 783.5,286.1 787.5,298.8 791.5,309.1 795.5,316.9 799.5,327.3 803.5,338.4 807.5,352.2 811.5,364.2 815.5,376.7 819.5,382.0 823.5,386.3 827.5,389.5 831.5,393.6 835.5,398.1 839.5,398.7 843.5,397.0 847.5,394.5 851.5,392.5 855.5,390.0 859.5,388.4 863.5,383.6 867.5,378.7 871.5,372.0 875.5,370.3 879.5,368.1 883.5,368.3 887.5,369.1 891.5,368.6 895.5,368.7 899.5,369.3 903.5,370.6 907.5,371.0 911.5,371.1 915.5,369.5 919.5,369.7 923.5,371.4 927.5,374.2 931.5,375.1 935.5,378.8 939.5,380.3 943.5,380.4 947.5,380.8 951.5,381.5 955.5,384.2 959.5,387.1 963.5,392.0 967.5,394.2 971.5,397.6 975.5,402.1 979.5,406.9 983.5,411.2 987.5,414.7 991.5,417.4 995.5,420.9 999.5,424.4 1003.5,429.0 1007.5,435.0 1011.5,438.3 1015.5,438.5 1019.5,438.1 1023.5,439.9 1027.5,442.6 1031.5,445.4 1035.5,448.6 1039.5,451.1 1043.5,455.0 1047.5,459.1 1051.5,463.4 1055.5,468.5 1059.5,472.4 1063.5,473.5 1067.5,475.6 1071.5,479.3 1075.5,483.3 1079.5,487.8 1083.5,491.7 1087.5,494.8 1091.5,497.5 1095.5,502.4 1099.5,507.0 1103.5,510.0 1107.5,510.8 1111.5,512.5 1115.5,515.4 1119.5,517.8 1123.5,517.6 1127.5,518.9 1131.5,519.7 1135.5,518.8 1139.5,517.0 1143.5,515.5 1147.5,513.1 1151.5,510.3 1155.5,506.8 1159.5,504.2 1163.5,502.9 1167.5,498.5 1171.5,492.7 1175.5,486.6 1179.5,483.0 1183.5,477.6 1187.5,472.6 1191.5,468.5 1195.5,463.8 1199.5,460.7 1203.5,458.8 1207.5,455.3 1211.5,453.2 1215.5,451.4 1219.5,449.6 1223.5,449.9 1227.5,451.9 1231.5,457.5 1235.5,462.4 1239.5,468.9 1243.5,474.2 1247.5,479.3 1251.5,482.9 1255.5,485.6 1259.5,487.9 1263.5,491.6 1267.5,494.0" fill="none" stroke="#ff0000" stroke-width="1" shape-rendering="crispEdges"/>
<polyline points="3.5,495.3 7.5,501.9 11.5,506.8 15.5,511.9 19.5,516.7 23.5,519.9 27.5,523.4 31.5,526.8 35.5,529.0 39.5,530.1 43.5,530.8 47.5,524.3 51.5,519.1 55.5,513.6 59.5,508.4 63.5,504.3 67.5,505.4 71.5,503.5 75.5,502.2 79.5,498.3 83.5,493.6 87.5,490.6 91.5,487.5 95.5,483.3 99.5,480.9 103.5,481.3 107.5,480.0 111.5,481.2 115.5,482.1 119.5,479.6 123.5,476.2 127.5,472.7 131.5,467.7 135.5,462.5 139.5,462.8 143.5,462.4 147.5,462.5 151.5,463.5 155.5,465.6 159.5,465.3 163.5,464.8 167.5,467.9 171.5,473.8 175.5,474.5 179.5,477.2 183.5,481.4 187.5,481.0 191.5,478.9 195.5,483.5 199.5,486.8 203.5,489.2 207.5,494.9 211.5,498.4 215.5,503.1 219.5,507.3 223.5,508.3 227.5,506.9 231.5,505.9 235.5,503.4 239.5,501.2 243.5,504.1 247.5,509.2 251.5,515.3 255.5,521.2 259.5,533.0 263.5,540.8 267.5,547.4 271.5,552.7 275.5,556.8 279.5,556.5 283.5,554.0 287.5,550.4 291.5,543.6 295.5,539.9 299.5,534.8 303.5,533.4 307.5,531.7 311.5,534.8 315.5,535.1 319.5,535.0 323.5,534.2 327.5,535.0 331.5,533.9 335.5,529.1 339.5,524.4 343.5,519.9 347.5,514.6 351.5,507.6 355.5,503.8 359.5,499.8 363.5,494.6 367.5,489.5 371.5,486.2 375.5,481.6 379.5,477.2 383.5,473.1 387.5,468.9 391.5,464.8 395.5,462.5 399.5,460.1 403.5,460.4 407.5,462.4 411.5,465.3 415.5,467.7 419.5,471.9 423.5,475.1 427.5,475.7 431.5,476.6 435.5,478.2 439.5,479.7 443.5,481.1 447.5,480.4 451.5,477.5 455.5,473.6 459.5,465.7 463.5,453.2 467.5,445.1 471.5,439.1 475.5,437.1 479.5,434.7 483.5,435.9 487.5,434.4 491.5,433.1 495.5,421.6 499.5,398.8 503.5,378.1 507.5,351.1 511.5,316.0 515.5,292.0 519.5,280.2 523.5,253.4 527.5,213.8 531.5,185.6 535.5,159.0 539.5,131.6 543.5,110.8 547.5,114.2 551.5,122.0 555.5,141.4 559.5,162.8 563.5,198.6 567.5,216.8 571.5,229.4 575.5,218.6 579.5,215.7 583.5,204.0 587.5,204.8 591.5,204.6 595.5,219.8 599.5,226.2 603.5,235.7 607.5,247.3 611.5,257.5 615.5,258.6 619.5,265.5 623.5,257.9 627.5,247.3 631.5,243.0 635.5,238.9 639.5,228.8 643.5,223.3 647.5,224.2 651.5,224.2 655.5,219.5 659.5,217.2 663.5,226.8 667.5,235.0 671.5,240.6 675.5,252.2 679.5,252.2 683.5,250.2 687.5,244.5 691.5,239.3 695.5,225.1 699.5,233.3 703.5,243.3 707.5,252.4 711.5,251.9 715.5,259.6 719.5,252.3 723.5,241.6 727.5,232.0 731.5,227.3 735.5,230.2 739.5,243.1 743.5,253.6 747.5,262.1 751.5,267.1 755.5,265.5 759.5,259.8 763.5,265.3 767.5,275.2 771.5,290.8 775.5,301.8 779.5,313.5 783.5,326.7 787.5,343.1 791.5,359.7 795.5,377.5 799.5,398.5 803.5,408.6 807.5,416.6 811.5,419.9 815.5,427.4 819.5,418.7 823.5,409.2 827.5,395.1 831.5,384.2 835.5,373.3 839.5,373.4 843.5,373.1 847.5,373.8 851.5,374.3 855.5,375.8 859.5,379.7 863.5,379.1 867.5,375.6 871.5,370.1 875.5,363.6 879.5,352.6 883.5,352.2 887.5,357.5 891.5,363.7 895.5,368.9 899.5,376.3 903.5,380.4 907.5,379.4 911.5,382.9 915.5,382.0 919.5,380.4 923.5,377.7 927.5,379.1 931.5,374.9 935.5,378.6 939.5,381.8 943.5,382.8 947.5,382.3 951.5,386.8 955.5,391.5 959.5,399.5 963.5,411.8 967.5,420.4 971.5,427.0 975.5,430.5 979.5,433.2 983.5,432.9 987.5,432.4 991.5,434.1 995.5,434.4 999.5,431.7 1003.5,432.2 1007.5,443.5 1011.5,449.8 1015.5,448.6 1019.5,450.1 1023.5,450.7 1027.5,448.2 1031.5,450.6 1035.5,461.6 1039.5,469.2 1043.5,474.8 1047.5,480.5 1051.5,484.7 1055.5,487.3 1059.5,491.8 1063.5,495.1 1067.5,496.0 1071.5,493.2 1075.5,491.8 1079.5,493.8 1083.5,499.3 1087.5,504.4 1091.5,512.4 1095.5,522.5 1099.5,528.6 1103.5,531.6 1107.5,529.5 1111.5,529.2 1115.5,528.2 1119.5,525.6 1123.5,517.3 1127.5,515.9 1131.5,512.1 1135.5,503.6 1139.5,497.1 1143.5,498.6 1147.5,496.2 1151.5,496.1 1155.5,494.8 1159.5,495.6 1163.5,494.3 1167.5,488.2 1171.5,479.1 1175.5,469.0 1179.5,457.9 1183.5,445.0 1187.5,439.6 1191.5,435.7 1195.5,433.4 1199.5,436.2 1203.5,443.5 1207.5,447.7 1211.5,451.9 1215.5,460.8 1219.5,463.2 1223.5,463.4 1227.5,469.7 1231.5,481.0 1235.5,488.8 1239.5,498.9 1243.5,507.5 1247.5,512.3 1251.5,504.7 1255.5,501.1 1259.5,496.9 1263.5,496.4 1267.5,493.2" fill="none" stroke="#ffa500" stroke-width="1" shape-rendering="crispEdges"/>
<path d="M1270 24 L1280 24 L1275 29 Z" fill="#c0c0c0"/>
<path d="M5.5 30 L13 30 L9.25 34 Z" fill="#000"/>
<text x="18" y="35" font-size="10.4" fill="#000" textLength="66" lengthAdjust="spacingAndGlyphs">USDCAD,Daily</text>
<text x="90.5" y="35" font-size="10.4" fill="#000" textLength="140" lengthAdjust="spacingAndGlyphs">1.31555 1.31970 1.31495 1.31901</text>
<g shape-rendering="crispEdges">
<rect x="1596" y="48" width="2" height="1" fill="#000"/>
<rect x="1596" y="80" width="2" height="1" fill="#000"/>
<rect x="1596" y="114" width="2" height="1" fill="#000"/>
<rect x="1596" y="147" width="2" height="1" fill="#000"/>
<rect x="1596" y="179" width="2" height="1" fill="#000"/>
<rect x="1596" y="213" width="2" height="1" fill="#000"/>
<rect x="1596" y="246" width="2" height="1" fill="#000"/>
<rect x="1596" y="279" width="2" height="1" fill="#000"/>
<rect x="1596" y="312" width="2" height="1" fill="#000"/>
<rect x="1596" y="345" width="2" height="1" fill="#000"/>
<rect x="1596" y="378" width="2" height="1" fill="#000"/>
<rect x="1596" y="411" width="2" height="1" fill="#000"/>
<rect x="1596" y="444" width="2" height="1" fill="#000"/>
<rect x="1596" y="477" width="2" height="1" fill="#000"/>
<rect x="1596" y="509" width="2" height="1" fill="#000"/>
<rect x="1596" y="576" width="2" height="1" fill="#000"/>
</g>
<text x="1601" y="52" font-size="10" fill="#000" textLength="33" lengthAdjust="spacingAndGlyphs">1.46740</text>
<text x="1601" y="84" font-size="10" fill="#000" textLength="33" lengthAdjust="spacingAndGlyphs">1.45660</text>
<text x="1601" y="118" font-size="10" fill="#000" textLength="33" lengthAdjust="spacingAndGlyphs">1.44550</text>
<text x="1601" y="151" font-size="10" fill="#000" textLength="33" lengthAdjust="spacingAndGlyphs">1.43440</text>
<text x="1601" y="183" font-size="10" fill="#000" textLength="33" lengthAdjust="spacingAndGlyphs">1.42360</text>
<text x="1601" y="217" font-size="10" fill="#000" textLength="33" lengthAdjust="spacingAndGlyphs">1.41250</text>
<text x="1601" y="250" font-size="10" fill="#000" textLength="33" lengthAdjust="spacingAndGlyphs">1.40140</text>
<text x="1601" y="283" font-size="10" fill="#000" textLength="33" lengthAdjust="spacingAndGlyphs">1.39060</text>
<text x="1601" y="316" font-size="10" fill="#000" textLength="33" lengthAdjust="spacingAndGlyphs">1.37960</text>
<text x="1601" y="349" font-size="10" fill="#000" textLength="33" lengthAdjust="spacingAndGlyphs">1.36840</text>
<text x="1601" y="382" font-size="10" fill="#000" textLength="33" lengthAdjust="spacingAndGlyphs">1.35750</text>
<text x="1601" y="415" font-size="10" fill="#000" textLength="33" lengthAdjust="spacingAndGlyphs">1.34650</text>
<text x="1601" y="448" font-size="10" fill="#000" textLength="33" lengthAdjust="spacingAndGlyphs">1.33540</text>
<text x="1601" y="481" font-size="10" fill="#000" textLength="33" lengthAdjust="spacingAndGlyphs">1.32460</text>
<text x="1601" y="513" font-size="10" fill="#000" textLength="33" lengthAdjust="spacingAndGlyphs">1.31380</text>
<text x="1601" y="580" font-size="10" fill="#000" textLength="33" lengthAdjust="spacingAndGlyphs">1.29160</text>
<rect x="1597" y="376" width="39" height="11" fill="#ff0000"/>
<text x="1601" y="385" font-size="10" fill="#fff" textLength="33" lengthAdjust="spacingAndGlyphs">1.35606</text>
<rect x="1597" y="418" width="39" height="11" fill="#ff0000"/>
<text x="1601" y="427" font-size="10" fill="#fff" textLength="33" lengthAdjust="spacingAndGlyphs">1.34206</text>
<rect x="1597" y="454" width="39" height="11" fill="#00ff00"/>
<text x="1601" y="463" font-size="10" fill="#fff" textLength="33" lengthAdjust="spacingAndGlyphs">1.33011</text>
<rect x="1597" y="489" width="39" height="11" fill="#000000"/>
<text x="1601" y="498" font-size="10" fill="#fff" textLength="33" lengthAdjust="spacingAndGlyphs">1.31901</text>
<rect x="1597" y="502" width="39" height="11" fill="#0000ff"/>
<text x="1601" y="511" font-size="10" fill="#fff" textLength="33" lengthAdjust="spacingAndGlyphs">1.31405</text>
<rect x="1597" y="540" width="39" height="11" fill="#0000ff"/>
<text x="1601" y="549" font-size="10" fill="#fff" textLength="33" lengthAdjust="spacingAndGlyphs">1.30152</text>
<g shape-rendering="crispEdges">
<rect x="4" y="612" width="3" height="1" fill="#c0c0c0"/>
<rect x="10" y="612" width="3" height="1" fill="#c0c0c0"/>
<rect x="16" y="612" width="3" height="1" fill="#c0c0c0"/>
<rect x="22" y="612" width="3" height="1" fill="#c0c0c0"/>
<rect x="28" y="612" width="3" height="1" fill="#c0c0c0"/>
<rect x="34" y="612" width="3" height="1" fill="#c0c0c0"/>
<rect x="40" y="612" width="3" height="1" fill="#c0c0c0"/>
<rect x="46" y="612" width="3" height="1" fill="#c0c0c0"/>
<rect x="52" y="612" width="3" height="1" fill="#c0c0c0"/>
<rect x="58" y="612" width="3" height="1" fill="#c0c0c0"/>
<rect x="64" y="612" width="3" height="1" fill="#c0c0c0"/>
<rect x="70" y="612" width="3" height="1" fill="#c0c0c0"/>
<rect x="76" y="612" width="3" height="1" fill="#c0c0c0"/>
<rect x="82" y="612" width="3" height="1" fill="#c0c0c0"/>
<rect x="88" y="612" width="3" height="1" fill="#c0c0c0"/>
<rect x="94" y="612" width="3" height="1" fill="#c0c0c0"/>
<rect x="100" y="612" width="3" height="1" fill="#c0c0c0"/>
<rect x="106" y="612" width="3" height="1" fill="#c0c0c0"/>
<rect x="112" y="612" width="3" height="1" fill="#c0c0c0"/>
<rect x="118" y="612" width="3" height="1" fill="#c0c0c0"/>
<rect x="124" y="612" width="3" height="1" fill="#c0c0c0"/>
<rect x="130" y="612" width="3" height="1" fill="#c0c0c0"/>
<rect x="136" y="612" width="3" height="1" fill="#c0c0c0"/>
<rect x="142" y="612" width="3" height="1" fill="#c0c0c0"/>
<rect x="148" y="612" width="3" height="1" fill="#c0c0c0"/>
<rect x="154" y="612" width="3" height="1" fill="#c0c0c0"/>
<rect x="160" y="612" width="3" height="1" fill="#c0c0c0"/>
<rect x="166" y="612" width="3" height="1" fill="#c0c0c0"/>
<rect x="172" y="612" width="3" height="1" fill="#c0c0c0"/>
<rect x="178" y="612" width="3" height="1" fill="#c0c0c0"/>
<rect x="184" y="612" width="3" height="1" fill="#c0c0c0"/>
<rect x="190" y="612" width="3" height="1" fill="#c0c0c0"/>
<rect x="196" y="612" width="3" height="1" fill="#c0c0c0"/>
<rect x="202" y="612" width="3" height="1" fill="#c0c0c0"/>
<rect x="208" y="612" width="3" height="1" fill="#c0c0c0"/>
<rect x="214" y="612" width="3" height="1" fill="#c0c0c0"/>
<rect x="220" y="612" width="3" height="1" fill="#c0c0c0"/>
<rect x="226" y="612" width="3" height="1" fill="#c0c0c0"/>
<rect x="232" y="612" width="3" height="1" fill="#c0c0c0"/>
<rect x="238" y="612" width="3" height="1" fill="#c0c0c0"/>
<rect x="244" y="612" width="3" height="1" fill="#c0c0c0"/>
<rect x="250" y="612" width="3" height="1" fill="#c0c0c0"/>
<rect x="256" y="612" width="3" height="1" fill="#c0c0c0"/>
<rect x="262" y="612" width="3" height="1" fill="#c0c0c0"/>
<rect x="268" y="612" width="3" height="1" fill="#c0c0c0"/>
<rect x="274" y="612" width="3" height="1" fill="#c0c0c0"/>
<rect x="280" y="612" width="3" height="1" fill="#c0c0c0"/>
<rect x="286" y="612" width="3" height="1" fill="#c0c0c0"/>
<rect x="292" y="612" width="3" height="1" fill="#c0c0c0"/>
<rect x="298" y="612" width="3" height="1" fill="#c0c0c0"/>
<rect x="304" y="612" width="3" height="1" fill="#c0c0c0"/>
<rect x="310" y="612" width="3" height="1" fill="#c0c0c0"/>
<rect x="316" y="612" width="3" height="1" fill="#c0c0c0"/>
<rect x="322" y="612" width="3" height="1" fill="#c0c0c0"/>
<rect x="328" y="612" width="3" height="1" fill="#c0c0c0"/>
<rect x="334" y="612" width="3" height="1" fill="#c0c0c0"/>
<rect x="340" y="612" width="3" height="1" fill="#c0c0c0"/>
<rect x="346" y="612" width="3" height="1" fill="#c0c0c0"/>
<rect x="352" y="612" width="3" height="1" fill="#c0c0c0"/>
<rect x="358" y="612" width="3" height="1" fill="#c0c0c0"/>
<rect x="364" y="612" width="3" height="1" fill="#c0c0c0"/>
<rect x="370" y="612" width="3" height="1" fill="#c0c0c0"/>
<rect x="376" y="612" width="3" height="1" fill="#c0c0c0"/>
<rect x="382" y="612" width="3" height="1" fill="#c0c0c0"/>
<rect x="388" y="612" width="3" height="1" fill="#c0c0c0"/>
<rect x="394" y="612" width="3" height="1" fill="#c0c0c0"/>
<rect x="400" y="612" width="3" height="1" fill="#c0c0c0"/>
<rect x="406" y="612" width="3" height="1" fill="#c0c0c0"/>
<rect x="412" y="612" width="3" height="1" fill="#c0c0c0"/>
<rect x="418" y="612" width="3" height="1" fill="#c0c0c0"/>
<rect x="424" y="612" width="3" height="1" fill="#c0c0c0"/>
<rect x="430" y="612" width="3" height="1" fill="#c0c0c0"/>
<rect x="436" y="612" width="3" height="1" fill="#c0c0c0"/>
<rect x="442" y="612" width="3" height="1" fill="#c0c0c0"/>
<rect x="448" y="612" width="3" height="1" fill="#c0c0c0"/>
<rect x="454" y="612" width="3" height="1" fill="#c0c0c0"/>
<rect x="460" y="612" width="3" height="1" fill="#c0c0c0"/>
<rect x="466" y="612" width="3" height="1" fill="#c0c0c0"/>
<rect x="472" y="612" width="3" height="1" fill="#c0c0c0"/>
<rect x="478" y="612" width="3" height="1" fill="#c0c0c0"/>
<rect x="484" y="612" width="3" height="1" fill="#c0c0c0"/>
<rect x="490" y="612" width="3" height="1" fill="#c0c0c0"/>
<rect x="496" y="612" width="3" height="1" fill="#c0c0c0"/>
<rect x="502" y="612" width="3" height="1" fill="#c0c0c0"/>
<rect x="508" y="612" width="3" height="1" fill="#c0c0c0"/>
<rect x="514" y="612" width="3" height="1" fill="#c0c0c0"/>
<rect x="520" y="612" width="3" height="1" fill="#c0c0c0"/>
<rect x="526" y="612" width="3" height="1" fill="#c0c0c0"/>
<rect x="532" y="612" width="3" height="1" fill="#c0c0c0"/>
<rect x="538" y="612" width="3" height="1" fill="#c0c0c0"/>
<rect x="544" y="612" width="3" height="1" fill="#c0c0c0"/>
<rect x="550" y="612" width="3" height="1" fill="#c0c0c0"/>
<rect x="556" y="612" width="3" height="1" fill="#c0c0c0"/>
<rect x="562" y="612" width="3" height="1" fill="#c0c0c0"/>
<rect x="568" y="612" width="3" height="1" fill="#c0c0c0"/>
<rect x="574" y="612" width="3" height="1" fill="#c0c0c0"/>
<rect x="580" y="612" width="3" height="1" fill="#c0c0c0"/>
<rect x="586" y="612" width="3" height="1" fill="#c0c0c0"/>
<rect x="592" y="612" width="3" height="1" fill="#c0c0c0"/>
<rect x="598" y="612" width="3" height="1" fill="#c0c0c0"/>
<rect x="604" y="612" width="3" height="1" fill="#c0c0c0"/>
<rect x="610" y="612" width="3" height="1" fill="#c0c0c0"/>
<rect x="616" y="612" width="3" height="1" fill="#c0c0c0"/>
<rect x="622" y="612" width="3" height="1" fill="#c0c0c0"/>
<rect x="628" y="612" width="3" height="1" fill="#c0c0c0"/>
<rect x="634" y="612" width="3" height="1" fill="#c0c0c0"/>
<rect x="640" y="612" width="3" height="1" fill="#c0c0c0"/>
<rect x="646" y="612" width="3" height="1" fill="#c0c0c0"/>
<rect x="652" y="612" width="3" height="1" fill="#c0c0c0"/>
<rect x="658" y="612" width="3" height="1" fill="#c0c0c0"/>
<rect x="664" y="612" width="3" height="1" fill="#c0c0c0"/>
<rect x="670" y="612" width="3" height="1" fill="#c0c0c0"/>
<rect x="676" y="612" width="3" height="1" fill="#c0c0c0"/>
<rect x="682" y="612" width="3" height="1" fill="#c0c0c0"/>
<rect x="688" y="612" width="3" height="1" fill="#c0c0c0"/>
<rect x="694" y="612" width="3" height="1" fill="#c0c0c0"/>
<rect x="700" y="612" width="3" height="1" fill="#c0c0c0"/>
<rect x="706" y="612" width="3" height="1" fill="#c0c0c0"/>
<rect x="712" y="612" width="3" height="1" fill="#c0c0c0"/>
<rect x="718" y="612" width="3" height="1" fill="#c0c0c0"/>
<rect x="724" y="612" width="3" height="1" fill="#c0c0c0"/>
<rect x="730" y="612" width="3" height="1" fill="#c0c0c0"/>
<rect x="736" y="612" width="3" height="1" fill="#c0c0c0"/>
<rect x="742" y="612" width="3" height="1" fill="#c0c0c0"/>
<rect x="748" y="612" width="3" height="1" fill="#c0c0c0"/>
<rect x="754" y="612" width="3" height="1" fill="#c0c0c0"/>
<rect x="760" y="612" width="3" height="1" fill="#c0c0c0"/>
<rect x="766" y="612" width="3" height="1" fill="#c0c0c0"/>
<rect x="772" y="612" width="3" height="1" fill="#c0c0c0"/>
<rect x="778" y="612" width="3" height="1" fill="#c0c0c0"/>
<rect x="784" y="612" width="3" height="1" fill="#c0c0c0"/>
<rect x="790" y="612" width="3" height="1" fill="#c0c0c0"/>
<rect x="796" y="612" width="3" height="1" fill="#c0c0c0"/>
<rect x="802" y="612" width="3" height="1" fill="#c0c0c0"/>
<rect x="808" y="612" width="3" height="1" fill="#c0c0c0"/>
<rect x="814" y="612" width="3" height="1" fill="#c0c0c0"/>
<rect x="820" y="612" width="3" height="1" fill="#c0c0c0"/>
<rect x="826" y="612" width="3" height="1" fill="#c0c0c0"/>
<rect x="832" y="612" width="3" height="1" fill="#c0c0c0"/>
<rect x="838" y="612" width="3" height="1" fill="#c0c0c0"/>
<rect x="844" y="612" width="3" height="1" fill="#c0c0c0"/>
<rect x="850" y="612" width="3" height="1" fill="#c0c0c0"/>
<rect x="856" y="612" width="3" height="1" fill="#c0c0c0"/>
<rect x="862" y="612" width="3" height="1" fill="#c0c0c0"/>
<rect x="868" y="612" width="3" height="1" fill="#c0c0c0"/>
<rect x="874" y="612" width="3" height="1" fill="#c0c0c0"/>
<rect x="880" y="612" width="3" height="1" fill="#c0c0c0"/>
<rect x="886" y="612" width="3" height="1" fill="#c0c0c0"/>
<rect x="892" y="612" width="3" height="1" fill="#c0c0c0"/>
<rect x="898" y="612" width="3" height="1" fill="#c0c0c0"/>
<rect x="904" y="612" width="3" height="1" fill="#c0c0c0"/>
<rect x="910" y="612" width="3" height="1" fill="#c0c0c0"/>
<rect x="916" y="612" width="3" height="1" fill="#c0c0c0"/>
<rect x="922" y="612" width="3" height="1" fill="#c0c0c0"/>
<rect x="928" y="612" width="3" height="1" fill="#c0c0c0"/>
<rect x="934" y="612" width="3" height="1" fill="#c0c0c0"/>
<rect x="940" y="612" width="3" height="1" fill="#c0c0c0"/>
<rect x="946" y="612" width="3" height="1" fill="#c0c0c0"/>
<rect x="952" y="612" width="3" height="1" fill="#c0c0c0"/>
<rect x="958" y="612" width="3" height="1" fill="#c0c0c0"/>
<rect x="964" y="612" width="3" height="1" fill="#c0c0c0"/>
<rect x="970" y="612" width="3" height="1" fill="#c0c0c0"/>
<rect x="976" y="612" width="3" height="1" fill="#c0c0c0"/>
<rect x="982" y="612" width="3" height="1" fill="#c0c0c0"/>
<rect x="988" y="612" width="3" height="1" fill="#c0c0c0"/>
<rect x="994" y="612" width="3" height="1" fill="#c0c0c0"/>
<rect x="1000" y="612" width="3" height="1" fill="#c0c0c0"/>
<rect x="1006" y="612" width="3" height="1" fill="#c0c0c0"/>
<rect x="1012" y="612" width="3" height="1" fill="#c0c0c0"/>
<rect x="1018" y="612" width="3" height="1" fill="#c0c0c0"/>
<rect x="1024" y="612" width="3" height="1" fill="#c0c0c0"/>
<rect x="1030" y="612" width="3" height="1" fill="#c0c0c0"/>
<rect x="1036" y="612" width="3" height="1" fill="#c0c0c0"/>
<rect x="1042" y="612" width="3" height="1" fill="#c0c0c0"/>
<rect x="1048" y="612" width="3" height="1" fill="#c0c0c0"/>
<rect x="1054" y="612" width="3" height="1" fill="#c0c0c0"/>
<rect x="1060" y="612" width="3" height="1" fill="#c0c0c0"/>
<rect x="1066" y="612" width="3" height="1" fill="#c0c0c0"/>
<rect x="1072" y="612" width="3" height="1" fill="#c0c0c0"/>
<rect x="1078" y="612" width="3" height="1" fill="#c0c0c0"/>
<rect x="1084" y="612" width="3" height="1" fill="#c0c0c0"/>
<rect x="1090" y="612" width="3" height="1" fill="#c0c0c0"/>
<rect x="1096" y="612" width="3" height="1" fill="#c0c0c0"/>
<rect x="1102" y="612" width="3" height="1" fill="#c0c0c0"/>
<rect x="1108" y="612" width="3" height="1" fill="#c0c0c0"/>
<rect x="1114" y="612" width="3" height="1" fill="#c0c0c0"/>
<rect x="1120" y="612" width="3" height="1" fill="#c0c0c0"/>
<rect x="1126" y="612" width="3" height="1" fill="#c0c0c0"/>
<rect x="1132" y="612" width="3" height="1" fill="#c0c0c0"/>
<rect x="1138" y="612" width="3" height="1" fill="#c0c0c0"/>
<rect x="1144" y="612" width="3" height="1" fill="#c0c0c0"/>
<rect x="1150" y="612" width="3" height="1" fill="#c0c0c0"/>
<rect x="1156" y="612" width="3" height="1" fill="#c0c0c0"/>
<rect x="1162" y="612" width="3" height="1" fill="#c0c0c0"/>
<rect x="1168" y="612" width="3" height="1" fill="#c0c0c0"/>
<rect x="1174" y="612" width="3" height="1" fill="#c0c0c0"/>
<rect x="1180" y="612" width="3" height="1" fill="#c0c0c0"/>
<rect x="1186" y="612" width="3" height="1" fill="#c0c0c0"/>
<rect x="1192" y="612" width="3" height="1" fill="#c0c0c0"/>
<rect x="1198" y="612" width="3" height="1" fill="#c0c0c0"/>
<rect x="1204" y="612" width="3" height="1" fill="#c0c0c0"/>
<rect x="1210" y="612" width="3" height="1" fill="#c0c0c0"/>
<rect x="1216" y="612" width="3" height="1" fill="#c0c0c0"/>
<rect x="1222" y="612" width="3" height="1" fill="#c0c0c0"/>
<rect x="1228" y="612" width="3" height="1" fill="#c0c0c0"/>
<rect x="1234" y="612" width="3" height="1" fill="#c0c0c0"/>
<rect x="1240" y="612" width="3" height="1" fill="#c0c0c0"/>
<rect x="1246" y="612" width="3" height="1" fill="#c0c0c0"/>
<rect x="1252" y="612" width="3" height="1" fill="#c0c0c0"/>
<rect x="1258" y="612" width="3" height="1" fill="#c0c0c0"/>
<rect x="1264" y="612" width="3" height="1" fill="#c0c0c0"/>
<rect x="1270" y="612" width="3" height="1" fill="#c0c0c0"/>
<rect x="1276" y="612" width="3" height="1" fill="#c0c0c0"/>
<rect x="1282" y="612" width="3" height="1" fill="#c0c0c0"/>
<rect x="1288" y="612" width="3" height="1" fill="#c0c0c0"/>
<rect x="1294" y="612" width="3" height="1" fill="#c0c0c0"/>
<rect x="1300" y="612" width="3" height="1" fill="#c0c0c0"/>
<rect x="1306" y="612" width="3" height="1" fill="#c0c0c0"/>
<rect x="1312" y="612" width="3" height="1" fill="#c0c0c0"/>
<rect x="1318" y="612" width="3" height="1" fill="#c0c0c0"/>
<rect x="1324" y="612" width="3" height="1" fill="#c0c0c0"/>
<rect x="1330" y="612" width="3" height="1" fill="#c0c0c0"/>
<rect x="1336" y="612" width="3" height="1" fill="#c0c0c0"/>
<rect x="1342" y="612" width="3" height="1" fill="#c0c0c0"/>
<rect x="1348" y="612" width="3" height="1" fill="#c0c0c0"/>
<rect x="1354" y="612" width="3" height="1" fill="#c0c0c0"/>
<rect x="1360" y="612" width="3" height="1" fill="#c0c0c0"/>
<rect x="1366" y="612" width="3" height="1" fill="#c0c0c0"/>
<rect x="1372" y="612" width="3" height="1" fill="#c0c0c0"/>
<rect x="1378" y="612" width="3" height="1" fill="#c0c0c0"/>
<rect x="1384" y="612" width="3" height="1" fill="#c0c0c0"/>
<rect x="1390" y="612" width="3" height="1" fill="#c0c0c0"/>
<rect x="1396" y="612" width="3" height="1" fill="#c0c0c0"/>
<rect x="1402" y="612" width="3" height="1" fill="#c0c0c0"/>
<rect x="1408" y="612" width="3" height="1" fill="#c0c0c0"/>
<rect x="1414" y="612" width="3" height="1" fill="#c0c0c0"/>
<rect x="1420" y="612" width="3" height="1" fill="#c0c0c0"/>
<rect x="1426" y="612" width="3" height="1" fill="#c0c0c0"/>
<rect x="1432" y="612" width="3" height="1" fill="#c0c0c0"/>
<rect x="1438" y="612" width="3" height="1" fill="#c0c0c0"/>
<rect x="1444" y="612" width="3" height="1" fill="#c0c0c0"/>
<rect x="1450" y="612" width="3" height="1" fill="#c0c0c0"/>
<rect x="1456" y="612" width="3" height="1" fill="#c0c0c0"/>
<rect x="1462" y="612" width="3" height="1" fill="#c0c0c0"/>
<rect x="1468" y="612" width="3" height="1" fill="#c0c0c0"/>
<rect x="1474" y="612" width="3" height="1" fill="#c0c0c0"/>
<rect x="1480" y="612" width="3" height="1" fill="#c0c0c0"/>
<rect x="1486" y="612" width="3" height="1" fill="#c0c0c0"/>
<rect x="1492" y="612" width="3" height="1" fill="#c0c0c0"/>
<rect x="1498" y="612" width="3" height="1" fill="#c0c0c0"/>
<rect x="1504" y="612" width="3" height="1" fill="#c0c0c0"/>
<rect x="1510" y="612" width="3" height="1" fill="#c0c0c0"/>
<rect x="1516" y="612" width="3" height="1" fill="#c0c0c0"/>
<rect x="1522" y="612" width="3" height="1" fill="#c0c0c0"/>
<rect x="1528" y="612" width="3" height="1" fill="#c0c0c0"/>
<rect x="1534" y="612" width="3" height="1" fill="#c0c0c0"/>
<rect x="1540" y="612" width="3" height="1" fill="#c0c0c0"/>
<rect x="1546" y="612" width="3" height="1" fill="#c0c0c0"/>
<rect x="1552" y="612" width="3" height="1" fill="#c0c0c0"/>
<rect x="1558" y="612" width="3" height="1" fill="#c0c0c0"/>
<rect x="1564" y="612" width="3" height="1" fill="#c0c0c0"/>
<rect x="1570" y="612" width="3" height="1" fill="#c0c0c0"/>
<rect x="1576" y="612" width="3" height="1" fill="#c0c0c0"/>
<rect x="1582" y="612" width="3" height="1" fill="#c0c0c0"/>
<rect x="1588" y="612" width="3" height="1" fill="#c0c0c0"/>
<rect x="1594" y="612" width="1" height="1" fill="#c0c0c0"/>
<rect x="4" y="652" width="3" height="1" fill="#c0c0c0"/>
<rect x="10" y="652" width="3" height="1" fill="#c0c0c0"/>
<rect x="16" y="652" width="3" height="1" fill="#c0c0c0"/>
<rect x="22" y="652" width="3" height="1" fill="#c0c0c0"/>
<rect x="28" y="652" width="3" height="1" fill="#c0c0c0"/>
<rect x="34" y="652" width="3" height="1" fill="#c0c0c0"/>
<rect x="40" y="652" width="3" height="1" fill="#c0c0c0"/>
<rect x="46" y="652" width="3" height="1" fill="#c0c0c0"/>
<rect x="52" y="652" width="3" height="1" fill="#c0c0c0"/>
<rect x="58" y="652" width="3" height="1" fill="#c0c0c0"/>
<rect x="64" y="652" width="3" height="1" fill="#c0c0c0"/>
<rect x="70" y="652" width="3" height="1" fill="#c0c0c0"/>
<rect x="76" y="652" width="3" height="1" fill="#c0c0c0"/>
<rect x="82" y="652" width="3" height="1" fill="#c0c0c0"/>
<rect x="88" y="652" width="3" height="1" fill="#c0c0c0"/>
<rect x="94" y="652" width="3" height="1" fill="#c0c0c0"/>
<rect x="100" y="652" width="3" height="1" fill="#c0c0c0"/>
<rect x="106" y="652" width="3" height="1" fill="#c0c0c0"/>
<rect x="112" y="652" width="3" height="1" fill="#c0c0c0"/>
<rect x="118" y="652" width="3" height="1" fill="#c0c0c0"/>
<rect x="124" y="652" width="3" height="1" fill="#c0c0c0"/>
<rect x="130" y="652" width="3" height="1" fill="#c0c0c0"/>
<rect x="136" y="652" width="3" height="1" fill="#c0c0c0"/>
<rect x="142" y="652" width="3" height="1" fill="#c0c0c0"/>
<rect x="148" y="652" width="3" height="1" fill="#c0c0c0"/>
<rect x="154" y="652" width="3" height="1" fill="#c0c0c0"/>
<rect x="160" y="652" width="3" height="1" fill="#c0c0c0"/>
<rect x="166" y="652" width="3" height="1" fill="#c0c0c0"/>
<rect x="172" y="652" width="3" height="1" fill="#c0c0c0"/>
<rect x="178" y="652" width="3" height="1" fill="#c0c0c0"/>
<rect x="184" y="652" width="3" height="1" fill="#c0c0c0"/>
<rect x="190" y="652" width="3" height="1" fill="#c0c0c0"/>
<rect x="196" y="652" width="3" height="1" fill="#c0c0c0"/>
<rect x="202" y="652" width="3" height="1" fill="#c0c0c0"/>
<rect x="208" y="652" width="3" height="1" fill="#c0c0c0"/>
<rect x="214" y="652" width="3" height="1" fill="#c0c0c0"/>
<rect x="220" y="652" width="3" height="1" fill="#c0c0c0"/>
<rect x="226" y="652" width="3" height="1" fill="#c0c0c0"/>
<rect x="232" y="652" width="3" height="1" fill="#c0c0c0"/>
<rect x="238" y="652" width="3" height="1" fill="#c0c0c0"/>
<rect x="244" y="652" width="3" height="1" fill="#c0c0c0"/>
<rect x="250" y="652" width="3" height="1" fill="#c0c0c0"/>
<rect x="256" y="652" width="3" height="1" fill="#c0c0c0"/>
<rect x="262" y="652" width="3" height="1" fill="#c0c0c0"/>
<rect x="268" y="652" width="3" height="1" fill="#c0c0c0"/>
<rect x="274" y="652" width="3" height="1" fill="#c0c0c0"/>
<rect x="280" y="652" width="3" height="1" fill="#c0c0c0"/>
<rect x="286" y="652" width="3" height="1" fill="#c0c0c0"/>
<rect x="292" y="652" width="3" height="1" fill="#c0c0c0"/>
<rect x="298" y="652" width="3" height="1" fill="#c0c0c0"/>
<rect x="304" y="652" width="3" height="1" fill="#c0c0c0"/>
<rect x="310" y="652" width="3" height="1" fill="#c0c0c0"/>
<rect x="316" y="652" width="3" height="1" fill="#c0c0c0"/>
<rect x="322" y="652" width="3" height="1" fill="#c0c0c0"/>
<rect x="328" y="652" width="3" height="1" fill="#c0c0c0"/>
<rect x="334" y="652" width="3" height="1" fill="#c0c0c0"/>
<rect x="340" y="652" width="3" height="1" fill="#c0c0c0"/>
<rect x="346" y="652" width="3" height="1" fill="#c0c0c0"/>
<rect x="352" y="652" width="3" height="1" fill="#c0c0c0"/>
<rect x="358" y="652" width="3" height="1" fill="#c0c0c0"/>
<rect x="364" y="652" width="3" height="1" fill="#c0c0c0"/>
<rect x="370" y="652" width="3" height="1" fill="#c0c0c0"/>
<rect x="376" y="652" width="3" height="1" fill="#c0c0c0"/>
<rect x="382" y="652" width="3" height="1" fill="#c0c0c0"/>
<rect x="388" y="652" width="3" height="1" fill="#c0c0c0"/>
<rect x="394" y="652" width="3" height="1" fill="#c0c0c0"/>
<rect x="400" y="652" width="3" height="1" fill="#c0c0c0"/>
<rect x="406" y="652" width="3" height="1" fill="#c0c0c0"/>
<rect x="412" y="652" width="3" height="1" fill="#c0c0c0"/>
<rect x="418" y="652" width="3" height="1" fill="#c0c0c0"/>
<rect x="424" y="652" width="3" height="1" fill="#c0c0c0"/>
<rect x="430" y="652" width="3" height="1" fill="#c0c0c0"/>
<rect x="436" y="652" width="3" height="1" fill="#c0c0c0"/>
<rect x="442" y="652" width="3" height="1" fill="#c0c0c0"/>
<rect x="448" y="652" width="3" height="1" fill="#c0c0c0"/>
<rect x="454" y="652" width="3" height="1" fill="#c0c0c0"/>
<rect x="460" y="652" width="3" height="1" fill="#c0c0c0"/>
<rect x="466" y="652" width="3" height="1" fill="#c0c0c0"/>
<rect x="472" y="652" width="3" height="1" fill="#c0c0c0"/>
<rect x="478" y="652" width="3" height="1" fill="#c0c0c0"/>
<rect x="484" y="652" width="3" height="1" fill="#c0c0c0"/>
<rect x="490" y="652" width="3" height="1" fill="#c0c0c0"/>
<rect x="496" y="652" width="3" height="1" fill="#c0c0c0"/>
<rect x="502" y="652" width="3" height="1" fill="#c0c0c0"/>
<rect x="508" y="652" width="3" height="1" fill="#c0c0c0"/>
<rect x="514" y="652" width="3" height="1" fill="#c0c0c0"/>
<rect x="520" y="652" width="3" height="1" fill="#c0c0c0"/>
<rect x="526" y="652" width="3" height="1" fill="#c0c0c0"/>
<rect x="532" y="652" width="3" height="1" fill="#c0c0c0"/>
<rect x="538" y="652" width="3" height="1" fill="#c0c0c0"/>
<rect x="544" y="652" width="3" height="1" fill="#c0c0c0"/>
<rect x="550" y="652" width="3" height="1" fill="#c0c0c0"/>
<rect x="556" y="652" width="3" height="1" fill="#c0c0c0"/>
<rect x="562" y="652" width="3" height="1" fill="#c0c0c0"/>
<rect x="568" y="652" width="3" height="1" fill="#c0c0c0"/>
<rect x="574" y="652" width="3" height="1" fill="#c0c0c0"/>
<rect x="580" y="652" width="3" height="1" fill="#c0c0c0"/>
<rect x="586" y="652" width="3" height="1" fill="#c0c0c0"/>
<rect x="592" y="652" width="3" height="1" fill="#c0c0c0"/>
<rect x="598" y="652" width="3" height="1" fill="#c0c0c0"/>
<rect x="604" y="652" width="3" height="1" fill="#c0c0c0"/>
<rect x="610" y="652" width="3" height="1" fill="#c0c0c0"/>
<rect x="616" y="652" width="3" height="1" fill="#c0c0c0"/>
<rect x="622" y="652" width="3" height="1" fill="#c0c0c0"/>
<rect x="628" y="652" width="3" height="1" fill="#c0c0c0"/>
<rect x="634" y="652" width="3" height="1" fill="#c0c0c0"/>
<rect x="640" y="652" width="3" height="1" fill="#c0c0c0"/>
<rect x="646" y="652" width="3" height="1" fill="#c0c0c0"/>
<rect x="652" y="652" width="3" height="1" fill="#c0c0c0"/>
<rect x="658" y="652" width="3" height="1" fill="#c0c0c0"/>
<rect x="664" y="652" width="3" height="1" fill="#c0c0c0"/>
<rect x="670" y="652" width="3" height="1" fill="#c0c0c0"/>
<rect x="676" y="652" width="3" height="1" fill="#c0c0c0"/>
<rect x="682" y="652" width="3" height="1" fill="#c0c0c0"/>
<rect x="688" y="652" width="3" height="1" fill="#c0c0c0"/>
<rect x="694" y="652" width="3" height="1" fill="#c0c0c0"/>
<rect x="700" y="652" width="3" height="1" fill="#c0c0c0"/>
<rect x="706" y="652" width="3" height="1" fill="#c0c0c0"/>
<rect x="712" y="652" width="3" height="1" fill="#c0c0c0"/>
<rect x="718" y="652" width="3" height="1" fill="#c0c0c0"/>
<rect x="724" y="652" width="3" height="1" fill="#c0c0c0"/>
<rect x="730" y="652" width="3" height="1" fill="#c0c0c0"/>
<rect x="736" y="652" width="3" height="1" fill="#c0c0c0"/>
<rect x="742" y="652" width="3" height="1" fill="#c0c0c0"/>
<rect x="748" y="652" width="3" height="1" fill="#c0c0c0"/>
<rect x="754" y="652" width="3" height="1" fill="#c0c0c0"/>
<rect x="760" y="652" width="3" height="1" fill="#c0c0c0"/>
<rect x="766" y="652" width="3" height="1" fill="#c0c0c0"/>
<rect x="772" y="652" width="3" height="1" fill="#c0c0c0"/>
<rect x="778" y="652" width="3" height="1" fill="#c0c0c0"/>
<rect x="784" y="652" width="3" height="1" fill="#c0c0c0"/>
<rect x="790" y="652" width="3" height="1" fill="#c0c0c0"/>
<rect x="796" y="652" width="3" height="1" fill="#c0c0c0"/>
<rect x="802" y="652" width="3" height="1" fill="#c0c0c0"/>
<rect x="808" y="652" width="3" height="1" fill="#c0c0c0"/>
<rect x="814" y="652" width="3" height="1" fill="#c0c0c0"/>
<rect x="820" y="652" width="3" height="1" fill="#c0c0c0"/>
<rect x="826" y="652" width="3" height="1" fill="#c0c0c0"/>
<rect x="832" y="652" width="3" height="1" fill="#c0c0c0"/>
<rect x="838" y="652" width="3" height="1" fill="#c0c0c0"/>
<rect x="844" y="652" width="3" height="1" fill="#c0c0c0"/>
<rect x="850" y="652" width="3" height="1" fill="#c0c0c0"/>
<rect x="856" y="652" width="3" height="1" fill="#c0c0c0"/>
<rect x="862" y="652" width="3" height="1" fill="#c0c0c0"/>
<rect x="868" y="652" width="3" height="1" fill="#c0c0c0"/>
<rect x="874" y="652" width="3" height="1" fill="#c0c0c0"/>
<rect x="880" y="652" width="3" height="1" fill="#c0c0c0"/>
<rect x="886" y="652" width="3" height="1" fill="#c0c0c0"/>
<rect x="892" y="652" width="3" height="1" fill="#c0c0c0"/>
<rect x="898" y="652" width="3" height="1" fill="#c0c0c0"/>
<rect x="904" y="652" width="3" height="1" fill="#c0c0c0"/>
<rect x="910" y="652" width="3" height="1" fill="#c0c0c0"/>
<rect x="916" y="652" width="3" height="1" fill="#c0c0c0"/>
<rect x="922" y="652" width="3" height="1" fill="#c0c0c0"/>
<rect x="928" y="652" width="3" height="1" fill="#c0c0c0"/>
<rect x="934" y="652" width="3" height="1" fill="#c0c0c0"/>
<rect x="940" y="652" width="3" height="1" fill="#c0c0c0"/>
<rect x="946" y="652" width="3" height="1" fill="#c0c0c0"/>
<rect x="952" y="652" width="3" height="1" fill="#c0c0c0"/>
<rect x="958" y="652" width="3" height="1" fill="#c0c0c0"/>
<rect x="964" y="652" width="3" height="1" fill="#c0c0c0"/>
<rect x="970" y="652" width="3" height="1" fill="#c0c0c0"/>
<rect x="976" y="652" width="3" height="1" fill="#c0c0c0"/>
<rect x="982" y="652" width="3" height="1" fill="#c0c0c0"/>
<rect x="988" y="652" width="3" height="1" fill="#c0c0c0"/>
<rect x="994" y="652" width="3" height="1" fill="#c0c0c0"/>
<rect x="1000" y="652" width="3" height="1" fill="#c0c0c0"/>
<rect x="1006" y="652" width="3" height="1" fill="#c0c0c0"/>
<rect x="1012" y="652" width="3" height="1" fill="#c0c0c0"/>
<rect x="1018" y="652" width="3" height="1" fill="#c0c0c0"/>
<rect x="1024" y="652" width="3" height="1" fill="#c0c0c0"/>
<rect x="1030" y="652" width="3" height="1" fill="#c0c0c0"/>
<rect x="1036" y="652" width="3" height="1" fill="#c0c0c0"/>
<rect x="1042" y="652" width="3" height="1" fill="#c0c0c0"/>
<rect x="1048" y="652" width="3" height="1" fill="#c0c0c0"/>
<rect x="1054" y="652" width="3" height="1" fill="#c0c0c0"/>
<rect x="1060" y="652" width="3" height="1" fill="#c0c0c0"/>
<rect x="1066" y="652" width="3" height="1" fill="#c0c0c0"/>
<rect x="1072" y="652" width="3" height="1" fill="#c0c0c0"/>
<rect x="1078" y="652" width="3" height="1" fill="#c0c0c0"/>
<rect x="1084" y="652" width="3" height="1" fill="#c0c0c0"/>
<rect x="1090" y="652" width="3" height="1" fill="#c0c0c0"/>
<rect x="1096" y="652" width="3" height="1" fill="#c0c0c0"/>
<rect x="1102" y="652" width="3" height="1" fill="#c0c0c0"/>
<rect x="1108" y="652" width="3" height="1" fill="#c0c0c0"/>
<rect x="1114" y="652" width="3" height="1" fill="#c0c0c0"/>
<rect x="1120" y="652" width="3" height="1" fill="#c0c0c0"/>
<rect x="1126" y="652" width="3" height="1" fill="#c0c0c0"/>
<rect x="1132" y="652" width="3" height="1" fill="#c0c0c0"/>
<rect x="1138" y="652" width="3" height="1" fill="#c0c0c0"/>
<rect x="1144" y="652" width="3" height="1" fill="#c0c0c0"/>
<rect x="1150" y="652" width="3" height="1" fill="#c0c0c0"/>
<rect x="1156" y="652" width="3" height="1" fill="#c0c0c0"/>
<rect x="1162" y="652" width="3" height="1" fill="#c0c0c0"/>
<rect x="1168" y="652" width="3" height="1" fill="#c0c0c0"/>
<rect x="1174" y="652" width="3" height="1" fill="#c0c0c0"/>
<rect x="1180" y="652" width="3" height="1" fill="#c0c0c0"/>
<rect x="1186" y="652" width="3" height="1" fill="#c0c0c0"/>
<rect x="1192" y="652" width="3" height="1" fill="#c0c0c0"/>
<rect x="1198" y="652" width="3" height="1" fill="#c0c0c0"/>
<rect x="1204" y="652" width="3" height="1" fill="#c0c0c0"/>
<rect x="1210" y="652" width="3" height="1" fill="#c0c0c0"/>
<rect x="1216" y="652" width="3" height="1" fill="#c0c0c0"/>
<rect x="1222" y="652" width="3" height="1" fill="#c0c0c0"/>
<rect x="1228" y="652" width="3" height="1" fill="#c0c0c0"/>
<rect x="1234" y="652" width="3" height="1" fill="#c0c0c0"/>
<rect x="1240" y="652" width="3" height="1" fill="#c0c0c0"/>
<rect x="1246" y="652" width="3" height="1" fill="#c0c0c0"/>
<rect x="1252" y="652" width="3" height="1" fill="#c0c0c0"/>
<rect x="1258" y="652" width="3" height="1" fill="#c0c0c0"/>
<rect x="1264" y="652" width="3" height="1" fill="#c0c0c0"/>
<rect x="1270" y="652" width="3" height="1" fill="#c0c0c0"/>
<rect x="1276" y="652" width="3" height="1" fill="#c0c0c0"/>
<rect x="1282" y="652" width="3" height="1" fill="#c0c0c0"/>
<rect x="1288" y="652" width="3" height="1" fill="#c0c0c0"/>
<rect x="1294" y="652" width="3" height="1" fill="#c0c0c0"/>
<rect x="1300" y="652" width="3" height="1" fill="#c0c0c0"/>
<rect x="1306" y="652" width="3" height="1" fill="#c0c0c0"/>
<rect x="1312" y="652" width="3" height="1" fill="#c0c0c0"/>
<rect x="1318" y="652" width="3" height="1" fill="#c0c0c0"/>
<rect x="1324" y="652" width="3" height="1" fill="#c0c0c0"/>
<rect x="1330" y="652" width="3" height="1" fill="#c0c0c0"/>
<rect x="1336" y="652" width="3" height="1" fill="#c0c0c0"/>
<rect x="1342" y="652" width="3" height="1" fill="#c0c0c0"/>
<rect x="1348" y="652" width="3" height="1" fill="#c0c0c0"/>
<rect x="1354" y="652" width="3" height="1" fill="#c0c0c0"/>
<rect x="1360" y="652" width="3" height="1" fill="#c0c0c0"/>
<rect x="1366" y="652" width="3" height="1" fill="#c0c0c0"/>
<rect x="1372" y="652" width="3" height="1" fill="#c0c0c0"/>
<rect x="1378" y="652" width="3" height="1" fill="#c0c0c0"/>
<rect x="1384" y="652" width="3" height="1" fill="#c0c0c0"/>
<rect x="1390" y="652" width="3" height="1" fill="#c0c0c0"/>
<rect x="1396" y="652" width="3" height="1" fill="#c0c0c0"/>
<rect x="1402" y="652" width="3" height="1" fill="#c0c0c0"/>
<rect x="1408" y="652" width="3" height="1" fill="#c0c0c0"/>
<rect x="1414" y="652" width="3" height="1" fill="#c0c0c0"/>
<rect x="1420" y="652" width="3" height="1" fill="#c0c0c0"/>
<rect x="1426" y="652" width="3" height="1" fill="#c0c0c0"/>
<rect x="1432" y="652" width="3" height="1" fill="#c0c0c0"/>
<rect x="1438" y="652" width="3" height="1" fill="#c0c0c0"/>
<rect x="1444" y="652" width="3" height="1" fill="#c0c0c0"/>
<rect x="1450" y="652" width="3" height="1" fill="#c0c0c0"/>
<rect x="1456" y="652" width="3" height="1" fill="#c0c0c0"/>
<rect x="1462" y="652" width="3" height="1" fill="#c0c0c0"/>
<rect x="1468" y="652" width="3" height="1" fill="#c0c0c0"/>
<rect x="1474" y="652" width="3" height="1" fill="#c0c0c0"/>
<rect x="1480" y="652" width="3" height="1" fill="#c0c0c0"/>
<rect x="1486" y="652" width="3" height="1" fill="#c0c0c0"/>
<rect x="1492" y="652" width="3" height="1" fill="#c0c0c0"/>
<rect x="1498" y="652" width="3" height="1" fill="#c0c0c0"/>
<rect x="1504" y="652" width="3" height="1" fill="#c0c0c0"/>
<rect x="1510" y="652" width="3" height="1" fill="#c0c0c0"/>
<rect x="1516" y="652" width="3" height="1" fill="#c0c0c0"/>
<rect x="1522" y="652" width="3" height="1" fill="#c0c0c0"/>
<rect x="1528" y="652" width="3" height="1" fill="#c0c0c0"/>
<rect x="1534" y="652" width="3" height="1" fill="#c0c0c0"/>
<rect x="1540" y="652" width="3" height="1" fill="#c0c0c0"/>
<rect x="1546" y="652" width="3" height="1" fill="#c0c0c0"/>
<rect x="1552" y="652" width="3" height="1" fill="#c0c0c0"/>
<rect x="1558" y="652" width="3" height="1" fill="#c0c0c0"/>
<rect x="1564" y="652" width="3" height="1" fill="#c0c0c0"/>
<rect x="1570" y="652" width="3" height="1" fill="#c0c0c0"/>
<rect x="1576" y="652" width="3" height="1" fill="#c0c0c0"/>
<rect x="1582" y="652" width="3" height="1" fill="#c0c0c0"/>
<rect x="1588" y="652" width="3" height="1" fill="#c0c0c0"/>
<rect x="1594" y="652" width="1" height="1" fill="#c0c0c0"/>
</g>
<polyline points="3.5,649.2 7.5,650.9 11.5,652.1 15.5,654.2 19.5,655.5 23.5,653.4 27.5,655.4 31.5,656.4 35.5,656.6 39.5,654.8 43.5,650.4 47.5,628.6 51.5,634.1 55.5,633.4 59.5,633.4 63.5,633.8 67.5,631.4 71.5,628.1 75.5,629.3 79.5,621.8 83.5,620.3 87.5,624.1 91.5,620.9 95.5,619.1 99.5,617.0 103.5,625.8 107.5,623.8 111.5,628.6 115.5,625.4 119.5,615.8 123.5,620.0 127.5,618.5 131.5,618.0 135.5,615.5 139.5,620.2 143.5,622.4 147.5,621.8 151.5,624.2 155.5,624.2 159.5,620.3 163.5,622.5 167.5,634.9 171.5,643.5 175.5,629.2 179.5,631.0 183.5,635.5 187.5,632.2 191.5,636.3 195.5,639.5 199.5,637.8 203.5,640.1 207.5,644.0 211.5,642.9 215.5,647.8 219.5,644.3 223.5,638.0 227.5,637.0 231.5,636.6 235.5,639.6 239.5,637.3 243.5,643.9 247.5,647.4 251.5,649.1 255.5,650.7 259.5,657.8 263.5,653.9 267.5,654.8 271.5,653.4 275.5,652.7 279.5,653.9 283.5,642.1 287.5,640.7 291.5,631.1 295.5,637.6 299.5,635.7 303.5,636.7 307.5,634.4 311.5,637.4 315.5,637.8 319.5,634.4 323.5,633.8 327.5,635.7 331.5,633.8 335.5,624.1 339.5,621.6 343.5,622.0 347.5,621.4 351.5,616.2 355.5,615.7 359.5,612.8 363.5,611.0 367.5,610.6 371.5,609.9 375.5,606.9 379.5,605.1 383.5,603.8 387.5,603.5 391.5,603.1 395.5,603.8 399.5,601.8 403.5,612.2 407.5,619.8 411.5,622.5 415.5,621.4 419.5,624.2 423.5,627.9 427.5,624.1 431.5,628.1 435.5,629.7 439.5,631.8 443.5,634.8 447.5,623.2 451.5,619.4 455.5,617.5 459.5,610.1 463.5,604.5 467.5,609.4 471.5,612.7 475.5,623.6 479.5,616.6 483.5,616.2 487.5,613.9 491.5,617.1 495.5,607.8 499.5,597.9 503.5,601.9 507.5,598.3 511.5,595.9 515.5,603.3 519.5,602.0 523.5,597.4 527.5,593.2 531.5,598.3 535.5,604.9 539.5,603.7 543.5,601.7 547.5,605.9 551.5,614.7 555.5,628.0 559.5,627.0 563.5,632.2 567.5,624.7 571.5,626.6 575.5,623.6 579.5,627.5 583.5,627.1 587.5,626.3 591.5,627.8 595.5,634.2 599.5,632.3 603.5,633.8 607.5,634.4 611.5,634.9 615.5,635.0 619.5,637.5 623.5,627.2 627.5,625.7 631.5,631.6 635.5,631.9 639.5,629.5 643.5,623.7 647.5,627.7 651.5,632.6 655.5,629.3 659.5,628.9 663.5,632.5 667.5,635.0 671.5,637.7 675.5,639.0 679.5,628.2 683.5,630.0 687.5,629.4 691.5,633.0 695.5,626.8 699.5,635.4 703.5,638.1 707.5,636.7 711.5,631.7 715.5,632.4 719.5,628.6 723.5,629.0 727.5,628.5 731.5,627.8 735.5,636.1 739.5,640.6 743.5,638.3 747.5,635.7 751.5,631.4 755.5,633.2 759.5,634.5 763.5,642.4 767.5,643.8 771.5,644.9 775.5,641.4 779.5,643.0 783.5,650.6 787.5,653.4 791.5,654.3 795.5,652.1 799.5,655.0 803.5,654.7 807.5,656.3 811.5,651.6 815.5,653.3 819.5,639.1 823.5,638.0 827.5,636.2 831.5,636.3 835.5,639.0 839.5,638.8 843.5,636.9 847.5,636.0 851.5,635.8 855.5,640.5 859.5,642.9 863.5,634.1 867.5,629.7 871.5,627.2 875.5,630.9 879.5,628.1 883.5,634.3 887.5,636.9 891.5,635.2 895.5,637.2 899.5,637.2 903.5,639.1 907.5,634.4 911.5,638.7 915.5,634.5 919.5,633.2 923.5,633.9 927.5,635.6 931.5,631.7 935.5,639.5 939.5,637.2 943.5,634.1 947.5,633.5 951.5,637.8 955.5,644.8 959.5,647.1 963.5,649.7 967.5,641.9 971.5,642.7 975.5,645.5 979.5,646.8 983.5,646.0 987.5,637.5 991.5,641.4 995.5,642.6 999.5,639.1 1003.5,642.8 1007.5,649.9 1011.5,646.0 1015.5,635.3 1019.5,636.5 1023.5,638.7 1027.5,642.6 1031.5,645.6 1035.5,647.6 1039.5,643.2 1043.5,642.8 1047.5,646.6 1051.5,648.1 1055.5,648.5 1059.5,647.5 1063.5,644.3 1067.5,645.5 1071.5,640.7 1075.5,643.2 1079.5,647.2 1083.5,649.6 1087.5,650.2 1091.5,651.2 1095.5,655.2 1099.5,652.6 1103.5,649.7 1107.5,639.1 1111.5,642.8 1115.5,646.8 1119.5,641.3 1123.5,630.0 1127.5,633.4 1131.5,633.6 1135.5,631.1 1139.5,630.1 1143.5,632.3 1147.5,629.5 1151.5,633.9 1155.5,629.1 1159.5,631.9 1163.5,630.2 1167.5,620.8 1171.5,620.0 1175.5,615.6 1179.5,616.7 1183.5,613.6 1187.5,616.3 1191.5,618.5 1195.5,615.6 1199.5,627.3 1203.5,630.2 1207.5,627.2 1211.5,629.1 1215.5,633.2 1219.5,631.9 1223.5,630.9 1227.5,637.9 1231.5,645.9 1235.5,643.8 1239.5,645.5 1243.5,641.5 1247.5,642.0 1251.5,630.6 1255.5,635.2 1259.5,636.3 1263.5,638.7 1267.5,634.7" fill="none" stroke="#1e90ff" stroke-width="1" shape-rendering="crispEdges"/>
<text x="7" y="594" font-size="10.4" fill="#000" textLength="69.0" lengthAdjust="spacingAndGlyphs">RSI(14) 47.0488</text>
<g shape-rendering="crispEdges">
<rect x="1596" y="582" width="2" height="1" fill="#000"/>
<rect x="1596" y="612" width="2" height="1" fill="#000"/>
<rect x="1596" y="652" width="2" height="1" fill="#000"/>
<rect x="1596" y="682" width="2" height="1" fill="#000"/>
</g>
<text x="1599.5" y="592" font-size="9.6" fill="#000" textLength="15.3" lengthAdjust="spacingAndGlyphs">100</text>
<text x="1599.5" y="616" font-size="9.6" fill="#000" textLength="10.2" lengthAdjust="spacingAndGlyphs">70</text>
<text x="1599.5" y="656" font-size="9.6" fill="#000" textLength="10.2" lengthAdjust="spacingAndGlyphs">30</text>
<text x="1599.5" y="679.5" font-size="9.6" fill="#000" textLength="5.1" lengthAdjust="spacingAndGlyphs">0</text>
<g shape-rendering="crispEdges">
<rect x="3" y="750" width="1" height="5" fill="#c0c0c0"/>
<rect x="7" y="750" width="1" height="6" fill="#c0c0c0"/>
<rect x="11" y="750" width="1" height="7" fill="#c0c0c0"/>
<rect x="15" y="750" width="1" height="8" fill="#c0c0c0"/>
<rect x="19" y="750" width="1" height="9" fill="#c0c0c0"/>
<rect x="23" y="750" width="1" height="10" fill="#c0c0c0"/>
<rect x="27" y="750" width="1" height="11" fill="#c0c0c0"/>
<rect x="31" y="750" width="1" height="11" fill="#c0c0c0"/>
<rect x="35" y="750" width="1" height="12" fill="#c0c0c0"/>
<rect x="39" y="750" width="1" height="12" fill="#c0c0c0"/>
<rect x="43" y="750" width="1" height="11" fill="#c0c0c0"/>
<rect x="47" y="750" width="1" height="9" fill="#c0c0c0"/>
<rect x="51" y="750" width="1" height="8" fill="#c0c0c0"/>
<rect x="55" y="750" width="1" height="7" fill="#c0c0c0"/>
<rect x="59" y="750" width="1" height="7" fill="#c0c0c0"/>
<rect x="63" y="750" width="1" height="6" fill="#c0c0c0"/>
<rect x="67" y="750" width="1" height="5" fill="#c0c0c0"/>
<rect x="71" y="750" width="1" height="4" fill="#c0c0c0"/>
<rect x="75" y="750" width="1" height="4" fill="#c0c0c0"/>
<rect x="79" y="750" width="1" height="2" fill="#c0c0c0"/>
<rect x="83" y="750" width="1" height="1" fill="#c0c0c0"/>
<rect x="87" y="750" width="1" height="1" fill="#c0c0c0"/>
<rect x="91" y="749" width="1" height="2" fill="#c0c0c0"/>
<rect x="95" y="748" width="1" height="3" fill="#c0c0c0"/>
<rect x="99" y="747" width="1" height="4" fill="#c0c0c0"/>
<rect x="103" y="747" width="1" height="4" fill="#c0c0c0"/>
<rect x="107" y="747" width="1" height="4" fill="#c0c0c0"/>
<rect x="111" y="747" width="1" height="4" fill="#c0c0c0"/>
<rect x="115" y="747" width="1" height="4" fill="#c0c0c0"/>
<rect x="119" y="746" width="1" height="5" fill="#c0c0c0"/>
<rect x="123" y="746" width="1" height="5" fill="#c0c0c0"/>
<rect x="127" y="745" width="1" height="6" fill="#c0c0c0"/>
<rect x="131" y="745" width="1" height="6" fill="#c0c0c0"/>
<rect x="135" y="744" width="1" height="7" fill="#c0c0c0"/>
<rect x="139" y="744" width="1" height="7" fill="#c0c0c0"/>
<rect x="143" y="744" width="1" height="7" fill="#c0c0c0"/>
<rect x="147" y="745" width="1" height="6" fill="#c0c0c0"/>
<rect x="151" y="745" width="1" height="6" fill="#c0c0c0"/>
<rect x="155" y="745" width="1" height="6" fill="#c0c0c0"/>
<rect x="159" y="745" width="1" height="6" fill="#c0c0c0"/>
<rect x="163" y="745" width="1" height="6" fill="#c0c0c0"/>
<rect x="167" y="746" width="1" height="5" fill="#c0c0c0"/>
<rect x="171" y="748" width="1" height="3" fill="#c0c0c0"/>
<rect x="175" y="748" width="1" height="3" fill="#c0c0c0"/>
<rect x="179" y="748" width="1" height="3" fill="#c0c0c0"/>
<rect x="183" y="749" width="1" height="2" fill="#c0c0c0"/>
<rect x="187" y="749" width="1" height="2" fill="#c0c0c0"/>
<rect x="191" y="750" width="1" height="1" fill="#c0c0c0"/>
<rect x="195" y="750" width="1" height="2" fill="#c0c0c0"/>
<rect x="199" y="750" width="1" height="3" fill="#c0c0c0"/>
<rect x="203" y="750" width="1" height="3" fill="#c0c0c0"/>
<rect x="207" y="750" width="1" height="4" fill="#c0c0c0"/>
<rect x="211" y="750" width="1" height="5" fill="#c0c0c0"/>
<rect x="215" y="750" width="1" height="6" fill="#c0c0c0"/>
<rect x="219" y="750" width="1" height="7" fill="#c0c0c0"/>
<rect x="223" y="750" width="1" height="6" fill="#c0c0c0"/>
<rect x="227" y="750" width="1" height="6" fill="#c0c0c0"/>
<rect x="231" y="750" width="1" height="6" fill="#c0c0c0"/>
<rect x="235" y="750" width="1" height="6" fill="#c0c0c0"/>
<rect x="239" y="750" width="1" height="6" fill="#c0c0c0"/>
<rect x="243" y="750" width="1" height="6" fill="#c0c0c0"/>
<rect x="247" y="750" width="1" height="7" fill="#c0c0c0"/>
<rect x="251" y="750" width="1" height="8" fill="#c0c0c0"/>
<rect x="255" y="750" width="1" height="9" fill="#c0c0c0"/>
<rect x="259" y="750" width="1" height="11" fill="#c0c0c0"/>
<rect x="263" y="750" width="1" height="12" fill="#c0c0c0"/>
<rect x="267" y="750" width="1" height="13" fill="#c0c0c0"/>
<rect x="271" y="750" width="1" height="13" fill="#c0c0c0"/>
<rect x="275" y="750" width="1" height="13" fill="#c0c0c0"/>
<rect x="279" y="750" width="1" height="13" fill="#c0c0c0"/>
<rect x="283" y="750" width="1" height="13" fill="#c0c0c0"/>
<rect x="287" y="750" width="1" height="12" fill="#c0c0c0"/>
<rect x="291" y="750" width="1" height="10" fill="#c0c0c0"/>
<rect x="295" y="750" width="1" height="9" fill="#c0c0c0"/>
<rect x="299" y="750" width="1" height="9" fill="#c0c0c0"/>
<rect x="303" y="750" width="1" height="8" fill="#c0c0c0"/>
<rect x="307" y="750" width="1" height="7" fill="#c0c0c0"/>
<rect x="311" y="750" width="1" height="7" fill="#c0c0c0"/>
<rect x="315" y="750" width="1" height="7" fill="#c0c0c0"/>
<rect x="319" y="750" width="1" height="6" fill="#c0c0c0"/>
<rect x="323" y="750" width="1" height="5" fill="#c0c0c0"/>
<rect x="327" y="750" width="1" height="5" fill="#c0c0c0"/>
<rect x="331" y="750" width="1" height="5" fill="#c0c0c0"/>
<rect x="335" y="750" width="1" height="3" fill="#c0c0c0"/>
<rect x="339" y="750" width="1" height="2" fill="#c0c0c0"/>
<rect x="343" y="750" width="1" height="1" fill="#c0c0c0"/>
<rect x="347" y="749" width="1" height="2" fill="#c0c0c0"/>
<rect x="351" y="748" width="1" height="3" fill="#c0c0c0"/>
<rect x="355" y="747" width="1" height="4" fill="#c0c0c0"/>
<rect x="359" y="746" width="1" height="5" fill="#c0c0c0"/>
<rect x="363" y="745" width="1" height="6" fill="#c0c0c0"/>
<rect x="367" y="744" width="1" height="7" fill="#c0c0c0"/>
<rect x="371" y="743" width="1" height="8" fill="#c0c0c0"/>
<rect x="375" y="743" width="1" height="8" fill="#c0c0c0"/>
<rect x="379" y="742" width="1" height="9" fill="#c0c0c0"/>
<rect x="383" y="741" width="1" height="10" fill="#c0c0c0"/>
<rect x="387" y="740" width="1" height="11" fill="#c0c0c0"/>
<rect x="391" y="740" width="1" height="11" fill="#c0c0c0"/>
<rect x="395" y="740" width="1" height="11" fill="#c0c0c0"/>
<rect x="399" y="739" width="1" height="12" fill="#c0c0c0"/>
<rect x="403" y="740" width="1" height="11" fill="#c0c0c0"/>
<rect x="407" y="741" width="1" height="10" fill="#c0c0c0"/>
<rect x="411" y="741" width="1" height="10" fill="#c0c0c0"/>
<rect x="415" y="742" width="1" height="9" fill="#c0c0c0"/>
<rect x="419" y="743" width="1" height="8" fill="#c0c0c0"/>
<rect x="423" y="744" width="1" height="7" fill="#c0c0c0"/>
<rect x="427" y="744" width="1" height="7" fill="#c0c0c0"/>
<rect x="431" y="745" width="1" height="6" fill="#c0c0c0"/>
<rect x="435" y="746" width="1" height="5" fill="#c0c0c0"/>
<rect x="439" y="747" width="1" height="4" fill="#c0c0c0"/>
<rect x="443" y="747" width="1" height="4" fill="#c0c0c0"/>
<rect x="447" y="747" width="1" height="4" fill="#c0c0c0"/>
<rect x="451" y="747" width="1" height="4" fill="#c0c0c0"/>
<rect x="455" y="746" width="1" height="5" fill="#c0c0c0"/>
<rect x="459" y="745" width="1" height="6" fill="#c0c0c0"/>
<rect x="463" y="743" width="1" height="8" fill="#c0c0c0"/>
<rect x="467" y="742" width="1" height="9" fill="#c0c0c0"/>
<rect x="471" y="742" width="1" height="9" fill="#c0c0c0"/>
<rect x="475" y="742" width="1" height="9" fill="#c0c0c0"/>
<rect x="479" y="742" width="1" height="9" fill="#c0c0c0"/>
<rect x="483" y="741" width="1" height="10" fill="#c0c0c0"/>
<rect x="487" y="741" width="1" height="10" fill="#c0c0c0"/>
<rect x="491" y="741" width="1" height="10" fill="#c0c0c0"/>
<rect x="495" y="739" width="1" height="12" fill="#c0c0c0"/>
<rect x="499" y="734" width="1" height="17" fill="#c0c0c0"/>
<rect x="503" y="731" width="1" height="20" fill="#c0c0c0"/>
<rect x="507" y="726" width="1" height="25" fill="#c0c0c0"/>
<rect x="511" y="721" width="1" height="30" fill="#c0c0c0"/>
<rect x="515" y="719" width="1" height="32" fill="#c0c0c0"/>
<rect x="519" y="717" width="1" height="34" fill="#c0c0c0"/>
<rect x="523" y="712" width="1" height="39" fill="#c0c0c0"/>
<rect x="527" y="703" width="1" height="48" fill="#c0c0c0"/>
<rect x="531" y="698" width="1" height="53" fill="#c0c0c0"/>
<rect x="535" y="696" width="1" height="55" fill="#c0c0c0"/>
<rect x="539" y="694" width="1" height="57" fill="#c0c0c0"/>
<rect x="543" y="692" width="1" height="59" fill="#c0c0c0"/>
<rect x="547" y="691" width="1" height="60" fill="#c0c0c0"/>
<rect x="551" y="694" width="1" height="57" fill="#c0c0c0"/>
<rect x="555" y="701" width="1" height="50" fill="#c0c0c0"/>
<rect x="559" y="707" width="1" height="44" fill="#c0c0c0"/>
<rect x="563" y="714" width="1" height="37" fill="#c0c0c0"/>
<rect x="567" y="716" width="1" height="35" fill="#c0c0c0"/>
<rect x="571" y="719" width="1" height="32" fill="#c0c0c0"/>
<rect x="575" y="720" width="1" height="31" fill="#c0c0c0"/>
<rect x="579" y="723" width="1" height="28" fill="#c0c0c0"/>
<rect x="583" y="725" width="1" height="26" fill="#c0c0c0"/>
<rect x="587" y="727" width="1" height="24" fill="#c0c0c0"/>
<rect x="591" y="729" width="1" height="22" fill="#c0c0c0"/>
<rect x="595" y="734" width="1" height="17" fill="#c0c0c0"/>
<rect x="599" y="737" width="1" height="14" fill="#c0c0c0"/>
<rect x="603" y="739" width="1" height="12" fill="#c0c0c0"/>
<rect x="607" y="742" width="1" height="9" fill="#c0c0c0"/>
<rect x="611" y="744" width="1" height="7" fill="#c0c0c0"/>
<rect x="615" y="746" width="1" height="5" fill="#c0c0c0"/>
<rect x="619" y="749" width="1" height="2" fill="#c0c0c0"/>
<rect x="623" y="747" width="1" height="4" fill="#c0c0c0"/>
<rect x="627" y="746" width="1" height="5" fill="#c0c0c0"/>
<rect x="631" y="747" width="1" height="4" fill="#c0c0c0"/>
<rect x="635" y="747" width="1" height="4" fill="#c0c0c0"/>
<rect x="639" y="747" width="1" height="4" fill="#c0c0c0"/>
<rect x="643" y="745" width="1" height="6" fill="#c0c0c0"/>
<rect x="647" y="744" width="1" height="7" fill="#c0c0c0"/>
<rect x="651" y="746" width="1" height="5" fill="#c0c0c0"/>
<rect x="655" y="746" width="1" height="5" fill="#c0c0c0"/>
<rect x="659" y="745" width="1" height="6" fill="#c0c0c0"/>
<rect x="663" y="746" width="1" height="5" fill="#c0c0c0"/>
<rect x="667" y="748" width="1" height="3" fill="#c0c0c0"/>
<rect x="671" y="750" width="1" height="1" fill="#c0c0c0"/>
<rect x="675" y="750" width="1" height="3" fill="#c0c0c0"/>
<rect x="679" y="750" width="1" height="2" fill="#c0c0c0"/>
<rect x="683" y="750" width="1" height="1" fill="#c0c0c0"/>
<rect x="687" y="749" width="1" height="2" fill="#c0c0c0"/>
<rect x="691" y="750" width="1" height="1" fill="#c0c0c0"/>
<rect x="695" y="748" width="1" height="3" fill="#c0c0c0"/>
<rect x="699" y="750" width="1" height="1" fill="#c0c0c0"/>
<rect x="703" y="750" width="1" height="3" fill="#c0c0c0"/>
<rect x="707" y="750" width="1" height="4" fill="#c0c0c0"/>
<rect x="711" y="750" width="1" height="4" fill="#c0c0c0"/>
<rect x="715" y="750" width="1" height="4" fill="#c0c0c0"/>
<rect x="719" y="750" width="1" height="2" fill="#c0c0c0"/>
<rect x="723" y="750" width="1" height="1" fill="#c0c0c0"/>
<rect x="727" y="749" width="1" height="2" fill="#c0c0c0"/>
<rect x="731" y="748" width="1" height="3" fill="#c0c0c0"/>
<rect x="735" y="750" width="1" height="1" fill="#c0c0c0"/>
<rect x="739" y="750" width="1" height="4" fill="#c0c0c0"/>
<rect x="743" y="750" width="1" height="5" fill="#c0c0c0"/>
<rect x="747" y="750" width="1" height="5" fill="#c0c0c0"/>
<rect x="751" y="750" width="1" height="5" fill="#c0c0c0"/>
<rect x="755" y="750" width="1" height="4" fill="#c0c0c0"/>
<rect x="759" y="750" width="1" height="5" fill="#c0c0c0"/>
<rect x="763" y="750" width="1" height="7" fill="#c0c0c0"/>
<rect x="767" y="750" width="1" height="9" fill="#c0c0c0"/>
<rect x="771" y="750" width="1" height="11" fill="#c0c0c0"/>
<rect x="775" y="750" width="1" height="12" fill="#c0c0c0"/>
<rect x="779" y="750" width="1" height="13" fill="#c0c0c0"/>
<rect x="783" y="750" width="1" height="17" fill="#c0c0c0"/>
<rect x="787" y="750" width="1" height="21" fill="#c0c0c0"/>
<rect x="791" y="750" width="1" height="24" fill="#c0c0c0"/>
<rect x="795" y="750" width="1" height="26" fill="#c0c0c0"/>
<rect x="799" y="750" width="1" height="28" fill="#c0c0c0"/>
<rect x="803" y="750" width="1" height="30" fill="#c0c0c0"/>
<rect x="807" y="750" width="1" height="31" fill="#c0c0c0"/>
<rect x="811" y="750" width="1" height="31" fill="#c0c0c0"/>
<rect x="815" y="750" width="1" height="32" fill="#c0c0c0"/>
<rect x="819" y="750" width="1" height="29" fill="#c0c0c0"/>
<rect x="823" y="750" width="1" height="26" fill="#c0c0c0"/>
<rect x="827" y="750" width="1" height="24" fill="#c0c0c0"/>
<rect x="831" y="750" width="1" height="21" fill="#c0c0c0"/>
<rect x="835" y="750" width="1" height="20" fill="#c0c0c0"/>
<rect x="839" y="750" width="1" height="18" fill="#c0c0c0"/>
<rect x="843" y="750" width="1" height="17" fill="#c0c0c0"/>
<rect x="847" y="750" width="1" height="15" fill="#c0c0c0"/>
<rect x="851" y="750" width="1" height="14" fill="#c0c0c0"/>
<rect x="855" y="750" width="1" height="13" fill="#c0c0c0"/>
<rect x="859" y="750" width="1" height="13" fill="#c0c0c0"/>
<rect x="863" y="750" width="1" height="12" fill="#c0c0c0"/>
<rect x="867" y="750" width="1" height="10" fill="#c0c0c0"/>
<rect x="871" y="750" width="1" height="7" fill="#c0c0c0"/>
<rect x="875" y="750" width="1" height="6" fill="#c0c0c0"/>
<rect x="879" y="750" width="1" height="5" fill="#c0c0c0"/>
<rect x="883" y="750" width="1" height="5" fill="#c0c0c0"/>
<rect x="887" y="750" width="1" height="5" fill="#c0c0c0"/>
<rect x="891" y="750" width="1" height="5" fill="#c0c0c0"/>
<rect x="895" y="750" width="1" height="6" fill="#c0c0c0"/>
<rect x="899" y="750" width="1" height="6" fill="#c0c0c0"/>
<rect x="903" y="750" width="1" height="6" fill="#c0c0c0"/>
<rect x="907" y="750" width="1" height="6" fill="#c0c0c0"/>
<rect x="911" y="750" width="1" height="6" fill="#c0c0c0"/>
<rect x="915" y="750" width="1" height="6" fill="#c0c0c0"/>
<rect x="919" y="750" width="1" height="6" fill="#c0c0c0"/>
<rect x="923" y="750" width="1" height="5" fill="#c0c0c0"/>
<rect x="927" y="750" width="1" height="5" fill="#c0c0c0"/>
<rect x="931" y="750" width="1" height="5" fill="#c0c0c0"/>
<rect x="935" y="750" width="1" height="5" fill="#c0c0c0"/>
<rect x="939" y="750" width="1" height="6" fill="#c0c0c0"/>
<rect x="943" y="750" width="1" height="5" fill="#c0c0c0"/>
<rect x="947" y="750" width="1" height="5" fill="#c0c0c0"/>
<rect x="951" y="750" width="1" height="5" fill="#c0c0c0"/>
<rect x="955" y="750" width="1" height="7" fill="#c0c0c0"/>
<rect x="959" y="750" width="1" height="9" fill="#c0c0c0"/>
<rect x="963" y="750" width="1" height="11" fill="#c0c0c0"/>
<rect x="967" y="750" width="1" height="11" fill="#c0c0c0"/>
<rect x="971" y="750" width="1" height="11" fill="#c0c0c0"/>
<rect x="975" y="750" width="1" height="12" fill="#c0c0c0"/>
<rect x="979" y="750" width="1" height="13" fill="#c0c0c0"/>
<rect x="983" y="750" width="1" height="13" fill="#c0c0c0"/>
<rect x="987" y="750" width="1" height="12" fill="#c0c0c0"/>
<rect x="991" y="750" width="1" height="12" fill="#c0c0c0"/>
<rect x="995" y="750" width="1" height="12" fill="#c0c0c0"/>
<rect x="999" y="750" width="1" height="12" fill="#c0c0c0"/>
<rect x="1003" y="750" width="1" height="12" fill="#c0c0c0"/>
<rect x="1007" y="750" width="1" height="13" fill="#c0c0c0"/>
<rect x="1011" y="750" width="1" height="14" fill="#c0c0c0"/>
<rect x="1015" y="750" width="1" height="13" fill="#c0c0c0"/>
<rect x="1019" y="750" width="1" height="12" fill="#c0c0c0"/>
<rect x="1023" y="750" width="1" height="11" fill="#c0c0c0"/>
<rect x="1027" y="750" width="1" height="12" fill="#c0c0c0"/>
<rect x="1031" y="750" width="1" height="13" fill="#c0c0c0"/>
<rect x="1035" y="750" width="1" height="14" fill="#c0c0c0"/>
<rect x="1039" y="750" width="1" height="14" fill="#c0c0c0"/>
<rect x="1043" y="750" width="1" height="14" fill="#c0c0c0"/>
<rect x="1047" y="750" width="1" height="15" fill="#c0c0c0"/>
<rect x="1051" y="750" width="1" height="15" fill="#c0c0c0"/>
<rect x="1055" y="750" width="1" height="16" fill="#c0c0c0"/>
<rect x="1059" y="750" width="1" height="16" fill="#c0c0c0"/>
<rect x="1063" y="750" width="1" height="16" fill="#c0c0c0"/>
<rect x="1067" y="750" width="1" height="15" fill="#c0c0c0"/>
<rect x="1071" y="750" width="1" height="14" fill="#c0c0c0"/>
<rect x="1075" y="750" width="1" height="14" fill="#c0c0c0"/>
<rect x="1079" y="750" width="1" height="14" fill="#c0c0c0"/>
<rect x="1083" y="750" width="1" height="15" fill="#c0c0c0"/>
<rect x="1087" y="750" width="1" height="15" fill="#c0c0c0"/>
<rect x="1091" y="750" width="1" height="16" fill="#c0c0c0"/>
<rect x="1095" y="750" width="1" height="17" fill="#c0c0c0"/>
<rect x="1099" y="750" width="1" height="17" fill="#c0c0c0"/>
<rect x="1103" y="750" width="1" height="17" fill="#c0c0c0"/>
<rect x="1107" y="750" width="1" height="16" fill="#c0c0c0"/>
<rect x="1111" y="750" width="1" height="15" fill="#c0c0c0"/>
<rect x="1115" y="750" width="1" height="15" fill="#c0c0c0"/>
<rect x="1119" y="750" width="1" height="14" fill="#c0c0c0"/>
<rect x="1123" y="750" width="1" height="12" fill="#c0c0c0"/>
<rect x="1127" y="750" width="1" height="11" fill="#c0c0c0"/>
<rect x="1131" y="750" width="1" height="9" fill="#c0c0c0"/>
<rect x="1135" y="750" width="1" height="8" fill="#c0c0c0"/>
<rect x="1139" y="750" width="1" height="7" fill="#c0c0c0"/>
<rect x="1143" y="750" width="1" height="6" fill="#c0c0c0"/>
<rect x="1147" y="750" width="1" height="5" fill="#c0c0c0"/>
<rect x="1151" y="750" width="1" height="5" fill="#c0c0c0"/>
<rect x="1155" y="750" width="1" height="4" fill="#c0c0c0"/>
<rect x="1159" y="750" width="1" height="3" fill="#c0c0c0"/>
<rect x="1163" y="750" width="1" height="3" fill="#c0c0c0"/>
<rect x="1167" y="750" width="1" height="1" fill="#c0c0c0"/>
<rect x="1171" y="748" width="1" height="3" fill="#c0c0c0"/>
<rect x="1175" y="745" width="1" height="6" fill="#c0c0c0"/>
<rect x="1179" y="744" width="1" height="7" fill="#c0c0c0"/>
<rect x="1183" y="742" width="1" height="9" fill="#c0c0c0"/>
<rect x="1187" y="741" width="1" height="10" fill="#c0c0c0"/>
<rect x="1191" y="740" width="1" height="11" fill="#c0c0c0"/>
<rect x="1195" y="740" width="1" height="11" fill="#c0c0c0"/>
<rect x="1199" y="740" width="1" height="11" fill="#c0c0c0"/>
<rect x="1203" y="742" width="1" height="9" fill="#c0c0c0"/>
<rect x="1207" y="742" width="1" height="9" fill="#c0c0c0"/>
<rect x="1211" y="743" width="1" height="8" fill="#c0c0c0"/>
<rect x="1215" y="744" width="1" height="7" fill="#c0c0c0"/>
<rect x="1219" y="745" width="1" height="6" fill="#c0c0c0"/>
<rect x="1223" y="746" width="1" height="5" fill="#c0c0c0"/>
<rect x="1227" y="748" width="1" height="3" fill="#c0c0c0"/>
<rect x="1231" y="750" width="1" height="2" fill="#c0c0c0"/>
<rect x="1235" y="750" width="1" height="3" fill="#c0c0c0"/>
<rect x="1239" y="750" width="1" height="5" fill="#c0c0c0"/>
<rect x="1243" y="750" width="1" height="6" fill="#c0c0c0"/>
<rect x="1247" y="750" width="1" height="7" fill="#c0c0c0"/>
<rect x="1251" y="750" width="1" height="6" fill="#c0c0c0"/>
<rect x="1255" y="750" width="1" height="6" fill="#c0c0c0"/>
<rect x="1259" y="750" width="1" height="6" fill="#c0c0c0"/>
<rect x="1263" y="750" width="1" height="6" fill="#c0c0c0"/>
<rect x="1267" y="750" width="1" height="6" fill="#c0c0c0"/>
</g>
<polyline points="3.5,749.2 7.5,750.1 11.5,751.1 15.5,752.3 19.5,753.6 23.5,754.8 27.5,755.9 31.5,756.9 35.5,757.8 39.5,758.5 43.5,759.1 47.5,759.4 51.5,759.4 55.5,759.2 59.5,758.8 63.5,758.3 67.5,757.6 71.5,756.8 75.5,755.9 79.5,754.9 83.5,754.0 87.5,753.2 91.5,752.3 95.5,751.5 99.5,750.7 103.5,749.9 107.5,749.2 111.5,748.6 115.5,748.2 119.5,747.7 123.5,747.3 127.5,746.9 131.5,746.5 135.5,746.2 139.5,745.8 143.5,745.5 147.5,745.2 151.5,744.9 155.5,744.8 159.5,744.8 163.5,744.8 167.5,744.9 171.5,745.4 175.5,745.8 179.5,746.3 183.5,746.8 187.5,747.3 191.5,747.8 195.5,748.5 199.5,749.1 203.5,749.8 207.5,750.4 211.5,751.0 215.5,751.7 219.5,752.4 223.5,753.1 227.5,753.7 231.5,754.1 235.5,754.5 239.5,754.8 243.5,755.0 247.5,755.3 251.5,755.5 255.5,755.7 259.5,756.2 263.5,756.8 267.5,757.5 271.5,758.3 275.5,759.1 279.5,759.9 283.5,760.6 287.5,761.0 291.5,761.1 295.5,761.0 299.5,760.6 303.5,760.1 307.5,759.5 311.5,758.7 315.5,758.0 319.5,757.2 323.5,756.5 327.5,756.0 331.5,755.4 335.5,754.9 339.5,754.2 343.5,753.5 347.5,752.8 351.5,752.0 355.5,751.1 359.5,750.2 363.5,749.1 367.5,748.1 371.5,747.1 375.5,746.1 379.5,745.2 383.5,744.2 387.5,743.4 391.5,742.6 395.5,741.9 399.5,741.3 403.5,740.8 407.5,740.5 411.5,740.4 415.5,740.4 419.5,740.7 423.5,741.1 427.5,741.6 431.5,742.2 435.5,742.9 439.5,743.7 443.5,744.4 447.5,745.1 451.5,745.6 455.5,746.0 459.5,746.1 463.5,746.0 467.5,745.7 471.5,745.2 475.5,744.7 479.5,744.1 483.5,743.4 487.5,742.8 491.5,742.2 495.5,741.5 499.5,740.5 503.5,739.2 507.5,737.5 511.5,735.1 515.5,732.6 519.5,729.8 523.5,726.6 527.5,722.4 531.5,717.8 535.5,713.6 539.5,709.6 543.5,705.7 547.5,702.4 551.5,699.7 555.5,698.0 559.5,697.4 563.5,698.6 567.5,700.7 571.5,703.2 575.5,706.1 579.5,709.6 583.5,713.4 587.5,717.1 591.5,720.2 595.5,723.2 599.5,725.7 603.5,728.3 607.5,730.8 611.5,733.5 615.5,736.1 619.5,738.7 623.5,740.9 627.5,742.8 631.5,744.2 635.5,745.4 639.5,746.2 643.5,746.5 647.5,746.5 651.5,746.4 655.5,746.1 659.5,745.9 663.5,745.9 667.5,746.1 671.5,746.4 675.5,746.9 679.5,747.6 683.5,748.2 687.5,748.6 691.5,749.1 695.5,749.5 699.5,749.9 703.5,750.3 707.5,750.7 711.5,750.8 715.5,751.0 719.5,751.1 723.5,751.2 727.5,751.1 731.5,751.1 735.5,751.1 739.5,751.2 743.5,751.3 747.5,751.4 751.5,751.6 755.5,751.8 759.5,752.2 763.5,752.9 767.5,754.0 771.5,755.2 775.5,756.2 779.5,757.1 783.5,758.3 787.5,760.1 791.5,762.2 795.5,764.6 799.5,766.9 803.5,769.1 807.5,771.3 811.5,773.5 815.5,775.5 819.5,776.9 823.5,777.6 827.5,777.6 831.5,777.1 835.5,776.1 839.5,774.9 843.5,773.3 847.5,771.4 851.5,769.4 855.5,767.6 859.5,766.2 863.5,764.9 867.5,763.6 871.5,762.3 875.5,760.9 879.5,759.6 883.5,758.5 887.5,757.5 891.5,756.6 895.5,755.8 899.5,755.1 903.5,754.7 907.5,754.5 911.5,754.5 915.5,754.7 919.5,754.8 923.5,754.8 927.5,754.8 931.5,754.7 935.5,754.7 939.5,754.6 943.5,754.5 947.5,754.3 951.5,754.2 955.5,754.4 959.5,754.7 963.5,755.3 967.5,756.0 971.5,756.7 975.5,757.4 979.5,758.2 983.5,759.1 987.5,759.9 991.5,760.5 995.5,760.9 999.5,761.0 1003.5,761.1 1007.5,761.3 1011.5,761.6 1015.5,761.6 1019.5,761.4 1023.5,761.3 1027.5,761.3 1031.5,761.4 1035.5,761.6 1039.5,761.9 1043.5,762.0 1047.5,762.0 1051.5,762.3 1055.5,762.8 1059.5,763.3 1063.5,763.7 1067.5,764.0 1071.5,764.0 1075.5,764.0 1079.5,764.1 1083.5,764.1 1087.5,764.1 1091.5,764.0 1095.5,764.1 1099.5,764.3 1103.5,764.5 1107.5,764.7 1111.5,764.8 1115.5,764.9 1119.5,764.8 1123.5,764.5 1127.5,763.9 1131.5,763.1 1135.5,762.1 1139.5,760.9 1143.5,759.8 1147.5,758.7 1151.5,757.5 1155.5,756.3 1159.5,755.3 1163.5,754.4 1167.5,753.4 1171.5,752.4 1175.5,751.3 1179.5,750.0 1183.5,748.7 1187.5,747.3 1191.5,746.0 1195.5,744.6 1199.5,743.3 1203.5,742.5 1207.5,741.8 1211.5,741.6 1215.5,741.7 1219.5,742.0 1223.5,742.6 1227.5,743.4 1231.5,744.6 1235.5,746.0 1239.5,747.4 1243.5,748.8 1247.5,750.3 1251.5,751.4 1255.5,752.5 1259.5,753.4 1263.5,754.3 1267.5,754.8" fill="none" stroke="#ff0000" stroke-width="1" stroke-dasharray="3,3" shape-rendering="crispEdges"/>
<text x="7" y="698" font-size="10.4" fill="#000" textLength="155.2" lengthAdjust="spacingAndGlyphs">MACD(12,26,9) -0.002284 -0.002206</text>
<g shape-rendering="crispEdges">
<rect x="1596" y="687" width="2" height="1" fill="#000"/>
<rect x="1596" y="750" width="2" height="1" fill="#000"/>
<rect x="1596" y="785" width="2" height="1" fill="#000"/>
</g>
<text x="1599.5" y="696" font-size="9.8" fill="#000" textLength="38.4" lengthAdjust="spacingAndGlyphs">0.032972</text>
<text x="1599.5" y="754" font-size="9.8" fill="#000" textLength="17.9" lengthAdjust="spacingAndGlyphs">0.00</text>
<text x="1599.5" y="783" font-size="9.8" fill="#000" textLength="41.4" lengthAdjust="spacingAndGlyphs">-0.018154</text>
<g shape-rendering="crispEdges">
<rect x="3" y="787" width="1" height="3" fill="#000"/>
<rect x="67" y="787" width="1" height="3" fill="#000"/>
<rect x="131" y="787" width="1" height="3" fill="#000"/>
<rect x="195" y="787" width="1" height="3" fill="#000"/>
<rect x="259" y="787" width="1" height="3" fill="#000"/>
<rect x="323" y="787" width="1" height="3" fill="#000"/>
<rect x="387" y="787" width="1" height="3" fill="#000"/>
<rect x="451" y="787" width="1" height="3" fill="#000"/>
<rect x="515" y="787" width="1" height="3" fill="#000"/>
<rect x="579" y="787" width="1" height="3" fill="#000"/>
<rect x="643" y="787" width="1" height="3" fill="#000"/>
<rect x="707" y="787" width="1" height="3" fill="#000"/>
<rect x="771" y="787" width="1" height="3" fill="#000"/>
<rect x="835" y="787" width="1" height="3" fill="#000"/>
<rect x="899" y="787" width="1" height="3" fill="#000"/>
<rect x="963" y="787" width="1" height="3" fill="#000"/>
<rect x="1027" y="787" width="1" height="3" fill="#000"/>
<rect x="1091" y="787" width="1" height="3" fill="#000"/>
<rect x="1155" y="787" width="1" height="3" fill="#000"/>
<rect x="1219" y="787" width="1" height="3" fill="#000"/>
</g>
<text x="3" y="799" font-size="10" fill="#000" textLength="50.1" lengthAdjust="spacingAndGlyphs">17 Oct 2019</text>
<text x="67" y="799" font-size="10" fill="#000" textLength="47.1" lengthAdjust="spacingAndGlyphs">5 Nov 2019</text>
<text x="131" y="799" font-size="10" fill="#000" textLength="52.2" lengthAdjust="spacingAndGlyphs">23 Nov 2019</text>
<text x="195" y="799" font-size="10" fill="#000" textLength="52.2" lengthAdjust="spacingAndGlyphs">12 Dec 2019</text>
<text x="259" y="799" font-size="10" fill="#000" textLength="52.2" lengthAdjust="spacingAndGlyphs">31 Dec 2019</text>
<text x="323" y="799" font-size="10" fill="#000" textLength="50.6" lengthAdjust="spacingAndGlyphs">18 Jan 2020</text>
<text x="387" y="799" font-size="10" fill="#000" textLength="46.5" lengthAdjust="spacingAndGlyphs">6 Feb 2020</text>
<text x="451" y="799" font-size="10" fill="#000" textLength="51.7" lengthAdjust="spacingAndGlyphs">25 Feb 2020</text>
<text x="515" y="799" font-size="10" fill="#000" textLength="51.7" lengthAdjust="spacingAndGlyphs">14 Mar 2020</text>
<text x="579" y="799" font-size="10" fill="#000" textLength="44.5" lengthAdjust="spacingAndGlyphs">2 Apr 2020</text>
<text x="643" y="799" font-size="10" fill="#000" textLength="49.6" lengthAdjust="spacingAndGlyphs">21 Apr 2020</text>
<text x="707" y="799" font-size="10" fill="#000" textLength="48.1" lengthAdjust="spacingAndGlyphs">9 May 2020</text>
<text x="771" y="799" font-size="10" fill="#000" textLength="53.2" lengthAdjust="spacingAndGlyphs">28 May 2020</text>
<text x="835" y="799" font-size="10" fill="#000" textLength="50.6" lengthAdjust="spacingAndGlyphs">16 Jun 2020</text>
<text x="899" y="799" font-size="10" fill="#000" textLength="42.5" lengthAdjust="spacingAndGlyphs">4 Jul 2020</text>
<text x="963" y="799" font-size="10" fill="#000" textLength="47.6" lengthAdjust="spacingAndGlyphs">23 Jul 2020</text>
<text x="1027" y="799" font-size="10" fill="#000" textLength="51.0" lengthAdjust="spacingAndGlyphs">11 Aug 2020</text>
<text x="1091" y="799" font-size="10" fill="#000" textLength="51.7" lengthAdjust="spacingAndGlyphs">29 Aug 2020</text>
<text x="1155" y="799" font-size="10" fill="#000" textLength="52.2" lengthAdjust="spacingAndGlyphs">17 Sep 2020</text>
<text x="1219" y="799" font-size="10" fill="#000" textLength="45.0" lengthAdjust="spacingAndGlyphs">6 Oct 2020</text>
<rect x="0" y="807" width="1636" height="1" fill="#e3e3e3"/>
<rect x="0" y="808" width="1636" height="1" fill="#ffffff"/>
<rect x="0" y="809" width="1636" height="1" fill="#000"/>
<rect x="0" y="810" width="1636" height="17" fill="#f0f0f0"/>
<rect x="0" y="827" width="1636" height="1" fill="#f0f0f0"/>
<rect x="0" y="828" width="1636" height="1" fill="#fcfcfc"/>
<rect x="0" y="829" width="1636" height="4" fill="#f0f0f0"/>
<rect x="0" y="833" width="1636" height="1" fill="#c4c4c4"/>
<rect x="0" y="834" width="1636" height="1" fill="#f6f6f6"/>
<rect x="312" y="809" width="104" height="19" fill="#000"/>
<rect x="313" y="809" width="102" height="18" fill="#fff"/>
<rect x="311" y="810" width="1" height="17" fill="#ffffff"/>
<rect x="416" y="810" width="1" height="17" fill="#e0e0e0"/>
<g shape-rendering="crispEdges">
<rect x="108" y="812" width="1" height="14" fill="#6a6a6a"/>
<rect x="208" y="812" width="1" height="14" fill="#6a6a6a"/>
<rect x="520" y="812" width="1" height="14" fill="#6a6a6a"/>
<rect x="624" y="812" width="1" height="14" fill="#6a6a6a"/>
<rect x="717" y="812" width="1" height="14" fill="#6a6a6a"/>
<rect x="808" y="812" width="1" height="14" fill="#6a6a6a"/>
<rect x="880" y="812" width="1" height="14" fill="#6a6a6a"/>
<rect x="960" y="812" width="1" height="14" fill="#6a6a6a"/>
<rect x="1040" y="812" width="1" height="14" fill="#6a6a6a"/>
<rect x="1120" y="812" width="1" height="14" fill="#6a6a6a"/>
<rect x="1196" y="812" width="1" height="14" fill="#6a6a6a"/>
<rect x="1268" y="812" width="1" height="14" fill="#6a6a6a"/>
<rect x="1352" y="812" width="1" height="14" fill="#6a6a6a"/>
<rect x="1432" y="812" width="1" height="14" fill="#6a6a6a"/>
<rect x="1532" y="812" width="1" height="14" fill="#6a6a6a"/>
<rect x="1604" y="812" width="1" height="14" fill="#6a6a6a"/>
</g>
<text x="16" y="824" font-size="12.4" fill="#6d6d6d" textLength="80.0" lengthAdjust="spacingAndGlyphs">EURUSD,Daily</text>
<text x="118.5" y="824" font-size="12.4" fill="#6d6d6d" textLength="78.5" lengthAdjust="spacingAndGlyphs">USDCHF,Daily</text>
<text x="219" y="824" font-size="12.4" fill="#6d6d6d" textLength="82.0" lengthAdjust="spacingAndGlyphs">AUDUSD,Daily</text>
<text x="324" y="824" font-size="12.4" fill="#000" textLength="80.0" lengthAdjust="spacingAndGlyphs">USDCAD,Daily</text>
<text x="425.7" y="824" font-size="12.4" fill="#6d6d6d" textLength="83.3" lengthAdjust="spacingAndGlyphs">USDCNH,Daily</text>
<text x="532.2" y="824" font-size="12.4" fill="#6d6d6d" textLength="79.6" lengthAdjust="spacingAndGlyphs">EURUSD,Daily</text>
<text x="636.2" y="824" font-size="12.4" fill="#6d6d6d" textLength="68.0" lengthAdjust="spacingAndGlyphs">GBPUSD,H4</text>
<text x="727.3" y="824" font-size="12.4" fill="#6d6d6d" textLength="68.1" lengthAdjust="spacingAndGlyphs">XAUUSD,H1</text>
<text x="819.3" y="824" font-size="12.4" fill="#6d6d6d" textLength="49.5" lengthAdjust="spacingAndGlyphs">HK50,H1</text>
<text x="891.1" y="824" font-size="12.4" fill="#6d6d6d" textLength="56.5" lengthAdjust="spacingAndGlyphs">UK100,H1</text>
<text x="970.7" y="824" font-size="12.4" fill="#6d6d6d" textLength="56.5" lengthAdjust="spacingAndGlyphs">UK100,H1</text>
<text x="1051" y="824" font-size="12.4" fill="#6d6d6d" textLength="56.3" lengthAdjust="spacingAndGlyphs">GER30,H1</text>
<text x="1129.9" y="824" font-size="12.4" fill="#6d6d6d" textLength="54.4" lengthAdjust="spacingAndGlyphs">FRA40,H1</text>
<text x="1206.7" y="824" font-size="12.4" fill="#6d6d6d" textLength="50.1" lengthAdjust="spacingAndGlyphs">USOil,H4</text>
<text x="1278.6" y="824" font-size="12.4" fill="#6d6d6d" textLength="61.9" lengthAdjust="spacingAndGlyphs">USDJPY,H1</text>
<text x="1362.6" y="824" font-size="12.4" fill="#6d6d6d" textLength="58.6" lengthAdjust="spacingAndGlyphs">DJ30,Daily</text>
<text x="1442" y="824" font-size="12.4" fill="#6d6d6d" textLength="78.6" lengthAdjust="spacingAndGlyphs">CHINA300,H1</text>
<text x="1542.5" y="824" font-size="12.4" fill="#6d6d6d" textLength="50.1" lengthAdjust="spacingAndGlyphs">USOil,H1</text>
<path d="M1615 815 L1611 819 L1615 823 Z" fill="#a0a0a0"/>
<path d="M1630 815 L1634 819 L1630 823 Z" fill="#000"/>
</svg></body></html>
